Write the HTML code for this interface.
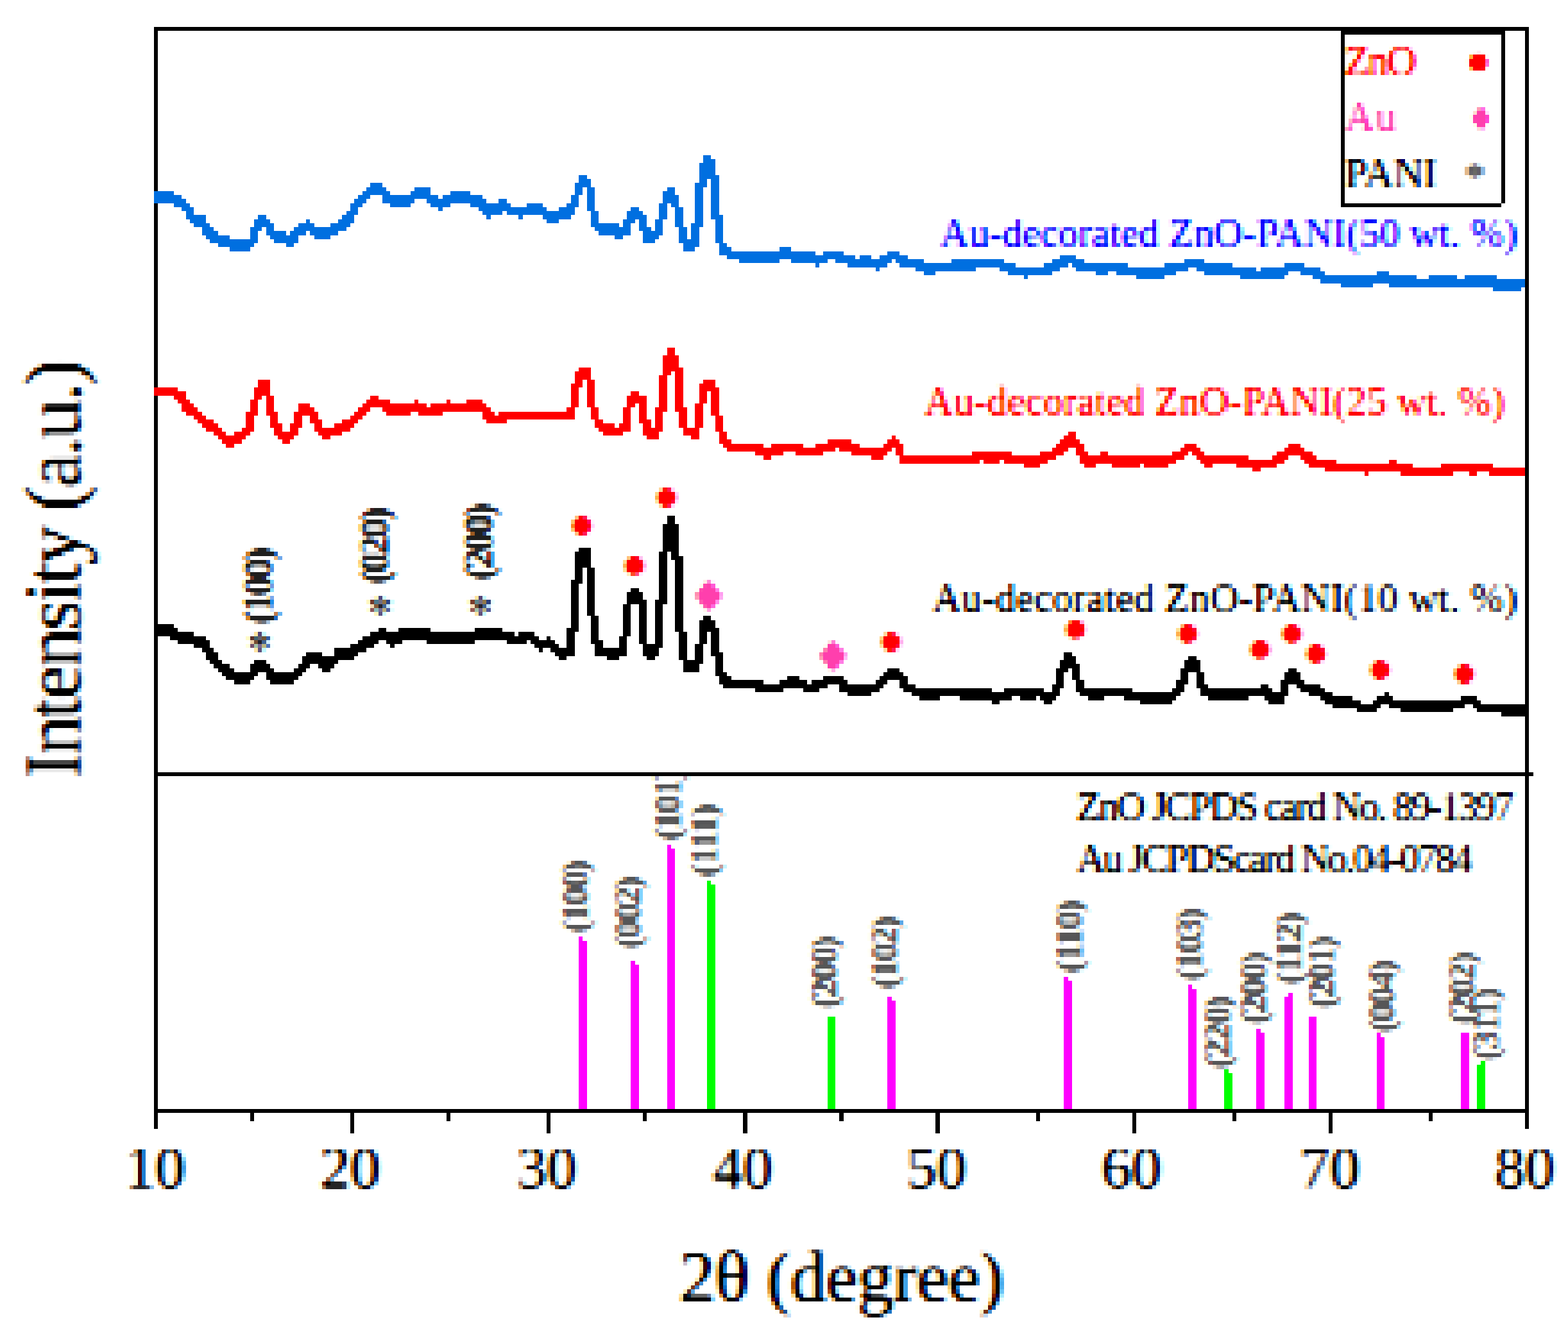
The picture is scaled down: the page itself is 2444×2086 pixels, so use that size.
<!DOCTYPE html><html><head><meta charset="utf-8"><title>XRD patterns</title><style>html,body{margin:0;padding:0;background:#fff}body{width:2444px;height:2086px}</style></head><body><svg width="2444" height="2086" viewBox="0 0 2444 2086" style="display:block"><defs><clipPath id="lowclip"><rect x="0" y="1210.45" width="2444" height="876"/></clipPath><filter id="f0" filterUnits="userSpaceOnUse" x="852" y="729" width="250" height="200" color-interpolation-filters="sRGB"><feGaussianBlur in="SourceAlpha" stdDeviation="3.4 1.6" result="A0"/><feComponentTransfer in="A0" result="A1"><feFuncA type="linear" slope="1.55" intercept="-0.1"/></feComponentTransfer><feComponentTransfer in="A1" result="A"><feFuncA type="gamma" amplitude="1" exponent="1.2" offset="0"/></feComponentTransfer><feColorMatrix in="A" type="matrix" values="0 0 0 0 1  0 0 0 0 0  0 0 0 0 1  0 0 0 1.000 0" result="M"/><feOffset in="A" dx="-2" dy="0" result="AB"/><feColorMatrix in="AB" type="matrix" values="0 0 0 0 1  0 0 0 0 1  0 0 0 0 0  0 0 0 1.000 0" result="Y"/><feBlend in="M" in2="Y" mode="multiply" result="B0"/><feFlood x="855" y="729" width="1" height="25" flood-color="#000" result="a0"/><feFlood x="852" y="732" width="25" height="1" flood-color="#000" result="b0"/><feFlood x="854" y="729" width="2" height="25" flood-color="#000" result="c0"/><feFlood x="852" y="731" width="25" height="2" flood-color="#000" result="r0"/><feFlood x="861" y="729" width="1" height="25" flood-color="#000" result="a1"/><feFlood x="852" y="738" width="25" height="1" flood-color="#000" result="b1"/><feFlood x="860" y="729" width="3" height="25" flood-color="#000" result="c1"/><feFlood x="852" y="737" width="25" height="3" flood-color="#000" result="r1"/><feFlood x="868" y="729" width="1" height="25" flood-color="#000" result="a2"/><feFlood x="852" y="745" width="25" height="1" flood-color="#000" result="b2"/><feFlood x="867" y="729" width="2" height="25" flood-color="#000" result="c2"/><feFlood x="852" y="744" width="25" height="2" flood-color="#000" result="r2"/><feFlood x="874" y="729" width="1" height="25" flood-color="#000" result="a3"/><feFlood x="852" y="751" width="25" height="1" flood-color="#000" result="b3"/><feFlood x="873" y="729" width="2" height="25" flood-color="#000" result="c3"/><feFlood x="852" y="750" width="25" height="2" flood-color="#000" result="r3"/><feMerge result="am"><feMergeNode in="a0"/><feMergeNode in="a1"/><feMergeNode in="a2"/><feMergeNode in="a3"/></feMerge><feMerge result="bm"><feMergeNode in="b0"/><feMergeNode in="b1"/><feMergeNode in="b2"/><feMergeNode in="b3"/></feMerge><feMerge result="cm"><feMergeNode in="c0"/><feMergeNode in="c1"/><feMergeNode in="c2"/><feMergeNode in="c3"/></feMerge><feMerge result="rm"><feMergeNode in="r0"/><feMergeNode in="r1"/><feMergeNode in="r2"/><feMergeNode in="r3"/></feMerge><feComposite in="am" in2="bm" operator="in" x="852" y="729" width="25" height="25" result="cell1"/><feTile in="cell1" result="grid1"/><feComposite in="cm" in2="rm" operator="in" x="852" y="729" width="25" height="25" result="cell2"/><feTile in="cell2" result="grid2"/><feComposite in="B0" in2="grid1" operator="in" result="s1"/><feMorphology in="s1" operator="dilate" radius="1" result="d1"/><feComposite in="d1" in2="grid2" operator="in" result="s2"/><feMorphology in="s2" operator="dilate" radius="2"/></filter><filter id="f1" filterUnits="userSpaceOnUse" x="1352" y="954" width="975" height="150" color-interpolation-filters="sRGB"><feGaussianBlur in="SourceAlpha" stdDeviation="3.4 1.6" result="A0"/><feComponentTransfer in="A0" result="A1"><feFuncA type="linear" slope="1.55" intercept="-0.1"/></feComponentTransfer><feComponentTransfer in="A1" result="A"><feFuncA type="gamma" amplitude="1" exponent="1.2" offset="0"/></feComponentTransfer><feColorMatrix in="A" type="matrix" values="0 0 0 0 1  0 0 0 0 0  0 0 0 0 1  0 0 0 1.000 0" result="M"/><feOffset in="A" dx="-2" dy="0" result="AB"/><feColorMatrix in="AB" type="matrix" values="0 0 0 0 1  0 0 0 0 1  0 0 0 0 0  0 0 0 1.000 0" result="Y"/><feBlend in="M" in2="Y" mode="multiply" result="B0"/><feFlood x="1355" y="954" width="1" height="25" flood-color="#000" result="a0"/><feFlood x="1352" y="957" width="25" height="1" flood-color="#000" result="b0"/><feFlood x="1354" y="954" width="2" height="25" flood-color="#000" result="c0"/><feFlood x="1352" y="956" width="25" height="2" flood-color="#000" result="r0"/><feFlood x="1361" y="954" width="1" height="25" flood-color="#000" result="a1"/><feFlood x="1352" y="963" width="25" height="1" flood-color="#000" result="b1"/><feFlood x="1360" y="954" width="3" height="25" flood-color="#000" result="c1"/><feFlood x="1352" y="962" width="25" height="3" flood-color="#000" result="r1"/><feFlood x="1368" y="954" width="1" height="25" flood-color="#000" result="a2"/><feFlood x="1352" y="970" width="25" height="1" flood-color="#000" result="b2"/><feFlood x="1367" y="954" width="2" height="25" flood-color="#000" result="c2"/><feFlood x="1352" y="969" width="25" height="2" flood-color="#000" result="r2"/><feFlood x="1374" y="954" width="1" height="25" flood-color="#000" result="a3"/><feFlood x="1352" y="976" width="25" height="1" flood-color="#000" result="b3"/><feFlood x="1373" y="954" width="2" height="25" flood-color="#000" result="c3"/><feFlood x="1352" y="975" width="25" height="2" flood-color="#000" result="r3"/><feMerge result="am"><feMergeNode in="a0"/><feMergeNode in="a1"/><feMergeNode in="a2"/><feMergeNode in="a3"/></feMerge><feMerge result="bm"><feMergeNode in="b0"/><feMergeNode in="b1"/><feMergeNode in="b2"/><feMergeNode in="b3"/></feMerge><feMerge result="cm"><feMergeNode in="c0"/><feMergeNode in="c1"/><feMergeNode in="c2"/><feMergeNode in="c3"/></feMerge><feMerge result="rm"><feMergeNode in="r0"/><feMergeNode in="r1"/><feMergeNode in="r2"/><feMergeNode in="r3"/></feMerge><feComposite in="am" in2="bm" operator="in" x="1352" y="954" width="25" height="25" result="cell1"/><feTile in="cell1" result="grid1"/><feComposite in="cm" in2="rm" operator="in" x="1352" y="954" width="25" height="25" result="cell2"/><feTile in="cell2" result="grid2"/><feComposite in="B0" in2="grid1" operator="in" result="s1"/><feMorphology in="s1" operator="dilate" radius="1" result="d1"/><feComposite in="d1" in2="grid2" operator="in" result="s2"/><feMorphology in="s2" operator="dilate" radius="2"/></filter><filter id="f2" filterUnits="userSpaceOnUse" x="2077" y="54" width="275" height="100" color-interpolation-filters="sRGB"><feGaussianBlur in="SourceAlpha" stdDeviation="2.7 1.5" result="A0"/><feComponentTransfer in="A0" result="A1"><feFuncA type="linear" slope="1.55" intercept="-0.12"/></feComponentTransfer><feComponentTransfer in="A1" result="A"><feFuncA type="gamma" amplitude="1" exponent="1.2" offset="0"/></feComponentTransfer><feColorMatrix in="A" type="matrix" values="0 0 0 0 1  0 0 0 0 0  0 0 0 0 1  0 0 0 1.000 0" result="M"/><feOffset in="A" dx="-2" dy="0" result="AB"/><feColorMatrix in="AB" type="matrix" values="0 0 0 0 1  0 0 0 0 1  0 0 0 0 0  0 0 0 1.000 0" result="Y"/><feBlend in="M" in2="Y" mode="multiply" result="B0"/><feFlood x="2080" y="54" width="1" height="25" flood-color="#000" result="a0"/><feFlood x="2077" y="57" width="25" height="1" flood-color="#000" result="b0"/><feFlood x="2079" y="54" width="2" height="25" flood-color="#000" result="c0"/><feFlood x="2077" y="56" width="25" height="2" flood-color="#000" result="r0"/><feFlood x="2086" y="54" width="1" height="25" flood-color="#000" result="a1"/><feFlood x="2077" y="63" width="25" height="1" flood-color="#000" result="b1"/><feFlood x="2085" y="54" width="3" height="25" flood-color="#000" result="c1"/><feFlood x="2077" y="62" width="25" height="3" flood-color="#000" result="r1"/><feFlood x="2093" y="54" width="1" height="25" flood-color="#000" result="a2"/><feFlood x="2077" y="70" width="25" height="1" flood-color="#000" result="b2"/><feFlood x="2092" y="54" width="2" height="25" flood-color="#000" result="c2"/><feFlood x="2077" y="69" width="25" height="2" flood-color="#000" result="r2"/><feFlood x="2099" y="54" width="1" height="25" flood-color="#000" result="a3"/><feFlood x="2077" y="76" width="25" height="1" flood-color="#000" result="b3"/><feFlood x="2098" y="54" width="2" height="25" flood-color="#000" result="c3"/><feFlood x="2077" y="75" width="25" height="2" flood-color="#000" result="r3"/><feMerge result="am"><feMergeNode in="a0"/><feMergeNode in="a1"/><feMergeNode in="a2"/><feMergeNode in="a3"/></feMerge><feMerge result="bm"><feMergeNode in="b0"/><feMergeNode in="b1"/><feMergeNode in="b2"/><feMergeNode in="b3"/></feMerge><feMerge result="cm"><feMergeNode in="c0"/><feMergeNode in="c1"/><feMergeNode in="c2"/><feMergeNode in="c3"/></feMerge><feMerge result="rm"><feMergeNode in="r0"/><feMergeNode in="r1"/><feMergeNode in="r2"/><feMergeNode in="r3"/></feMerge><feComposite in="am" in2="bm" operator="in" x="2077" y="54" width="25" height="25" result="cell1"/><feTile in="cell1" result="grid1"/><feComposite in="cm" in2="rm" operator="in" x="2077" y="54" width="25" height="25" result="cell2"/><feTile in="cell2" result="grid2"/><feComposite in="B0" in2="grid1" operator="in" result="s1"/><feMorphology in="s1" operator="dilate" radius="1" result="d1"/><feComposite in="d1" in2="grid2" operator="in" result="s2"/><feMorphology in="s2" operator="dilate" radius="2"/></filter><filter id="f3" filterUnits="userSpaceOnUse" x="1402" y="579" width="975" height="100" color-interpolation-filters="sRGB"><feGaussianBlur in="SourceAlpha" stdDeviation="2.7 1.5" result="A0"/><feComponentTransfer in="A0" result="A1"><feFuncA type="linear" slope="1.55" intercept="-0.12"/></feComponentTransfer><feComponentTransfer in="A1" result="A"><feFuncA type="gamma" amplitude="1" exponent="1.2" offset="0"/></feComponentTransfer><feColorMatrix in="A" type="matrix" values="0 0 0 0 1  0 0 0 0 0  0 0 0 0 1  0 0 0 1.000 0" result="M"/><feOffset in="A" dx="-2" dy="0" result="AB"/><feColorMatrix in="AB" type="matrix" values="0 0 0 0 1  0 0 0 0 1  0 0 0 0 0  0 0 0 1.000 0" result="Y"/><feBlend in="M" in2="Y" mode="multiply" result="B0"/><feFlood x="1405" y="579" width="1" height="25" flood-color="#000" result="a0"/><feFlood x="1402" y="582" width="25" height="1" flood-color="#000" result="b0"/><feFlood x="1404" y="579" width="2" height="25" flood-color="#000" result="c0"/><feFlood x="1402" y="581" width="25" height="2" flood-color="#000" result="r0"/><feFlood x="1411" y="579" width="1" height="25" flood-color="#000" result="a1"/><feFlood x="1402" y="588" width="25" height="1" flood-color="#000" result="b1"/><feFlood x="1410" y="579" width="3" height="25" flood-color="#000" result="c1"/><feFlood x="1402" y="587" width="25" height="3" flood-color="#000" result="r1"/><feFlood x="1418" y="579" width="1" height="25" flood-color="#000" result="a2"/><feFlood x="1402" y="595" width="25" height="1" flood-color="#000" result="b2"/><feFlood x="1417" y="579" width="2" height="25" flood-color="#000" result="c2"/><feFlood x="1402" y="594" width="25" height="2" flood-color="#000" result="r2"/><feFlood x="1424" y="579" width="1" height="25" flood-color="#000" result="a3"/><feFlood x="1402" y="601" width="25" height="1" flood-color="#000" result="b3"/><feFlood x="1423" y="579" width="2" height="25" flood-color="#000" result="c3"/><feFlood x="1402" y="600" width="25" height="2" flood-color="#000" result="r3"/><feMerge result="am"><feMergeNode in="a0"/><feMergeNode in="a1"/><feMergeNode in="a2"/><feMergeNode in="a3"/></feMerge><feMerge result="bm"><feMergeNode in="b0"/><feMergeNode in="b1"/><feMergeNode in="b2"/><feMergeNode in="b3"/></feMerge><feMerge result="cm"><feMergeNode in="c0"/><feMergeNode in="c1"/><feMergeNode in="c2"/><feMergeNode in="c3"/></feMerge><feMerge result="rm"><feMergeNode in="r0"/><feMergeNode in="r1"/><feMergeNode in="r2"/><feMergeNode in="r3"/></feMerge><feComposite in="am" in2="bm" operator="in" x="1402" y="579" width="25" height="25" result="cell1"/><feTile in="cell1" result="grid1"/><feComposite in="cm" in2="rm" operator="in" x="1402" y="579" width="25" height="25" result="cell2"/><feTile in="cell2" result="grid2"/><feComposite in="B0" in2="grid1" operator="in" result="s1"/><feMorphology in="s1" operator="dilate" radius="1" result="d1"/><feComposite in="d1" in2="grid2" operator="in" result="s2"/><feMorphology in="s2" operator="dilate" radius="2"/></filter><filter id="f4" filterUnits="userSpaceOnUse" x="1052" y="879" width="300" height="200" color-interpolation-filters="sRGB"><feGaussianBlur in="SourceAlpha" stdDeviation="3.4 1.6" result="A0"/><feComponentTransfer in="A0" result="A1"><feFuncA type="linear" slope="1.55" intercept="-0.1"/></feComponentTransfer><feComponentTransfer in="A1" result="A"><feFuncA type="gamma" amplitude="1" exponent="1.2" offset="0"/></feComponentTransfer><feColorMatrix in="A" type="matrix" values="0 0 0 0 1  0 0 0 0 0  0 0 0 0 1  0 0 0 0.750 0" result="M"/><feOffset in="A" dx="-2" dy="0" result="AB"/><feColorMatrix in="AB" type="matrix" values="0 0 0 0 1  0 0 0 0 1  0 0 0 0 0  0 0 0 0.320 0" result="Y"/><feBlend in="M" in2="Y" mode="multiply" result="B0"/><feFlood x="1055" y="879" width="1" height="25" flood-color="#000" result="a0"/><feFlood x="1052" y="882" width="25" height="1" flood-color="#000" result="b0"/><feFlood x="1054" y="879" width="2" height="25" flood-color="#000" result="c0"/><feFlood x="1052" y="881" width="25" height="2" flood-color="#000" result="r0"/><feFlood x="1061" y="879" width="1" height="25" flood-color="#000" result="a1"/><feFlood x="1052" y="888" width="25" height="1" flood-color="#000" result="b1"/><feFlood x="1060" y="879" width="3" height="25" flood-color="#000" result="c1"/><feFlood x="1052" y="887" width="25" height="3" flood-color="#000" result="r1"/><feFlood x="1068" y="879" width="1" height="25" flood-color="#000" result="a2"/><feFlood x="1052" y="895" width="25" height="1" flood-color="#000" result="b2"/><feFlood x="1067" y="879" width="2" height="25" flood-color="#000" result="c2"/><feFlood x="1052" y="894" width="25" height="2" flood-color="#000" result="r2"/><feFlood x="1074" y="879" width="1" height="25" flood-color="#000" result="a3"/><feFlood x="1052" y="901" width="25" height="1" flood-color="#000" result="b3"/><feFlood x="1073" y="879" width="2" height="25" flood-color="#000" result="c3"/><feFlood x="1052" y="900" width="25" height="2" flood-color="#000" result="r3"/><feMerge result="am"><feMergeNode in="a0"/><feMergeNode in="a1"/><feMergeNode in="a2"/><feMergeNode in="a3"/></feMerge><feMerge result="bm"><feMergeNode in="b0"/><feMergeNode in="b1"/><feMergeNode in="b2"/><feMergeNode in="b3"/></feMerge><feMerge result="cm"><feMergeNode in="c0"/><feMergeNode in="c1"/><feMergeNode in="c2"/><feMergeNode in="c3"/></feMerge><feMerge result="rm"><feMergeNode in="r0"/><feMergeNode in="r1"/><feMergeNode in="r2"/><feMergeNode in="r3"/></feMerge><feComposite in="am" in2="bm" operator="in" x="1052" y="879" width="25" height="25" result="cell1"/><feTile in="cell1" result="grid1"/><feComposite in="cm" in2="rm" operator="in" x="1052" y="879" width="25" height="25" result="cell2"/><feTile in="cell2" result="grid2"/><feComposite in="B0" in2="grid1" operator="in" result="s1"/><feMorphology in="s1" operator="dilate" radius="1" result="d1"/><feComposite in="d1" in2="grid2" operator="in" result="s2"/><feMorphology in="s2" operator="dilate" radius="2"/></filter><filter id="f5" filterUnits="userSpaceOnUse" x="2077" y="129" width="275" height="100" color-interpolation-filters="sRGB"><feGaussianBlur in="SourceAlpha" stdDeviation="2.7 1.5" result="A0"/><feComponentTransfer in="A0" result="A1"><feFuncA type="linear" slope="1.55" intercept="-0.12"/></feComponentTransfer><feComponentTransfer in="A1" result="A"><feFuncA type="gamma" amplitude="1" exponent="1.2" offset="0"/></feComponentTransfer><feColorMatrix in="A" type="matrix" values="0 0 0 0 1  0 0 0 0 0  0 0 0 0 1  0 0 0 0.750 0" result="M"/><feOffset in="A" dx="-2" dy="0" result="AB"/><feColorMatrix in="AB" type="matrix" values="0 0 0 0 1  0 0 0 0 1  0 0 0 0 0  0 0 0 0.320 0" result="Y"/><feBlend in="M" in2="Y" mode="multiply" result="B0"/><feFlood x="2080" y="129" width="1" height="25" flood-color="#000" result="a0"/><feFlood x="2077" y="132" width="25" height="1" flood-color="#000" result="b0"/><feFlood x="2079" y="129" width="2" height="25" flood-color="#000" result="c0"/><feFlood x="2077" y="131" width="25" height="2" flood-color="#000" result="r0"/><feFlood x="2086" y="129" width="1" height="25" flood-color="#000" result="a1"/><feFlood x="2077" y="138" width="25" height="1" flood-color="#000" result="b1"/><feFlood x="2085" y="129" width="3" height="25" flood-color="#000" result="c1"/><feFlood x="2077" y="137" width="25" height="3" flood-color="#000" result="r1"/><feFlood x="2093" y="129" width="1" height="25" flood-color="#000" result="a2"/><feFlood x="2077" y="145" width="25" height="1" flood-color="#000" result="b2"/><feFlood x="2092" y="129" width="2" height="25" flood-color="#000" result="c2"/><feFlood x="2077" y="144" width="25" height="2" flood-color="#000" result="r2"/><feFlood x="2099" y="129" width="1" height="25" flood-color="#000" result="a3"/><feFlood x="2077" y="151" width="25" height="1" flood-color="#000" result="b3"/><feFlood x="2098" y="129" width="2" height="25" flood-color="#000" result="c3"/><feFlood x="2077" y="150" width="25" height="2" flood-color="#000" result="r3"/><feMerge result="am"><feMergeNode in="a0"/><feMergeNode in="a1"/><feMergeNode in="a2"/><feMergeNode in="a3"/></feMerge><feMerge result="bm"><feMergeNode in="b0"/><feMergeNode in="b1"/><feMergeNode in="b2"/><feMergeNode in="b3"/></feMerge><feMerge result="cm"><feMergeNode in="c0"/><feMergeNode in="c1"/><feMergeNode in="c2"/><feMergeNode in="c3"/></feMerge><feMerge result="rm"><feMergeNode in="r0"/><feMergeNode in="r1"/><feMergeNode in="r2"/><feMergeNode in="r3"/></feMerge><feComposite in="am" in2="bm" operator="in" x="2077" y="129" width="25" height="25" result="cell1"/><feTile in="cell1" result="grid1"/><feComposite in="cm" in2="rm" operator="in" x="2077" y="129" width="25" height="25" result="cell2"/><feTile in="cell2" result="grid2"/><feComposite in="B0" in2="grid1" operator="in" result="s1"/><feMorphology in="s1" operator="dilate" radius="1" result="d1"/><feComposite in="d1" in2="grid2" operator="in" result="s2"/><feMorphology in="s2" operator="dilate" radius="2"/></filter><filter id="f6" filterUnits="userSpaceOnUse" x="1427" y="304" width="975" height="125" color-interpolation-filters="sRGB"><feGaussianBlur in="SourceAlpha" stdDeviation="2.7 1.5" result="A0"/><feComponentTransfer in="A0" result="A1"><feFuncA type="linear" slope="1.55" intercept="-0.12"/></feComponentTransfer><feComponentTransfer in="A1" result="A"><feFuncA type="gamma" amplitude="1" exponent="1.2" offset="0"/></feComponentTransfer><feOffset in="A" dx="2" dy="0" result="AR"/><feColorMatrix in="AR" type="matrix" values="0 0 0 0 0  0 0 0 0 1  0 0 0 0 1  0 0 0 1.000 0" result="C"/><feColorMatrix in="A" type="matrix" values="0 0 0 0 1  0 0 0 0 0  0 0 0 0 1  0 0 0 1.000 0" result="M"/><feBlend in="C" in2="M" mode="multiply" result="B0"/><feFlood x="1430" y="304" width="1" height="25" flood-color="#000" result="a0"/><feFlood x="1427" y="307" width="25" height="1" flood-color="#000" result="b0"/><feFlood x="1429" y="304" width="2" height="25" flood-color="#000" result="c0"/><feFlood x="1427" y="306" width="25" height="2" flood-color="#000" result="r0"/><feFlood x="1436" y="304" width="1" height="25" flood-color="#000" result="a1"/><feFlood x="1427" y="313" width="25" height="1" flood-color="#000" result="b1"/><feFlood x="1435" y="304" width="3" height="25" flood-color="#000" result="c1"/><feFlood x="1427" y="312" width="25" height="3" flood-color="#000" result="r1"/><feFlood x="1443" y="304" width="1" height="25" flood-color="#000" result="a2"/><feFlood x="1427" y="320" width="25" height="1" flood-color="#000" result="b2"/><feFlood x="1442" y="304" width="2" height="25" flood-color="#000" result="c2"/><feFlood x="1427" y="319" width="25" height="2" flood-color="#000" result="r2"/><feFlood x="1449" y="304" width="1" height="25" flood-color="#000" result="a3"/><feFlood x="1427" y="326" width="25" height="1" flood-color="#000" result="b3"/><feFlood x="1448" y="304" width="2" height="25" flood-color="#000" result="c3"/><feFlood x="1427" y="325" width="25" height="2" flood-color="#000" result="r3"/><feMerge result="am"><feMergeNode in="a0"/><feMergeNode in="a1"/><feMergeNode in="a2"/><feMergeNode in="a3"/></feMerge><feMerge result="bm"><feMergeNode in="b0"/><feMergeNode in="b1"/><feMergeNode in="b2"/><feMergeNode in="b3"/></feMerge><feMerge result="cm"><feMergeNode in="c0"/><feMergeNode in="c1"/><feMergeNode in="c2"/><feMergeNode in="c3"/></feMerge><feMerge result="rm"><feMergeNode in="r0"/><feMergeNode in="r1"/><feMergeNode in="r2"/><feMergeNode in="r3"/></feMerge><feComposite in="am" in2="bm" operator="in" x="1427" y="304" width="25" height="25" result="cell1"/><feTile in="cell1" result="grid1"/><feComposite in="cm" in2="rm" operator="in" x="1427" y="304" width="25" height="25" result="cell2"/><feTile in="cell2" result="grid2"/><feComposite in="B0" in2="grid1" operator="in" result="s1"/><feMorphology in="s1" operator="dilate" radius="1" result="d1"/><feComposite in="d1" in2="grid2" operator="in" result="s2"/><feMorphology in="s2" operator="dilate" radius="2"/></filter><filter id="f7" filterUnits="userSpaceOnUse" x="327" y="754" width="475" height="300" color-interpolation-filters="sRGB"><feGaussianBlur in="SourceAlpha" stdDeviation="2.6 1.5" result="A0"/><feComponentTransfer in="A0" result="A1"><feFuncA type="linear" slope="1.6" intercept="-0.12"/></feComponentTransfer><feComponentTransfer in="A1" result="A"><feFuncA type="gamma" amplitude="1" exponent="1.2" offset="0"/></feComponentTransfer><feOffset in="A" dx="2" dy="0" result="AR"/><feColorMatrix in="AR" type="matrix" values="0 0 0 0 0  0 0 0 0 1  0 0 0 0 1  0 0 0 0.880 0" result="C"/><feColorMatrix in="A" type="matrix" values="0 0 0 0 1  0 0 0 0 0  0 0 0 0 1  0 0 0 0.880 0" result="M"/><feOffset in="A" dx="-2" dy="0" result="AB"/><feColorMatrix in="AB" type="matrix" values="0 0 0 0 1  0 0 0 0 1  0 0 0 0 0  0 0 0 0.880 0" result="Y"/><feBlend in="C" in2="M" mode="multiply" result="B0"/><feBlend in="B0" in2="Y" mode="multiply" result="B1"/><feFlood x="330" y="754" width="1" height="25" flood-color="#000" result="a0"/><feFlood x="327" y="757" width="25" height="1" flood-color="#000" result="b0"/><feFlood x="329" y="754" width="2" height="25" flood-color="#000" result="c0"/><feFlood x="327" y="756" width="25" height="2" flood-color="#000" result="r0"/><feFlood x="336" y="754" width="1" height="25" flood-color="#000" result="a1"/><feFlood x="327" y="763" width="25" height="1" flood-color="#000" result="b1"/><feFlood x="335" y="754" width="3" height="25" flood-color="#000" result="c1"/><feFlood x="327" y="762" width="25" height="3" flood-color="#000" result="r1"/><feFlood x="343" y="754" width="1" height="25" flood-color="#000" result="a2"/><feFlood x="327" y="770" width="25" height="1" flood-color="#000" result="b2"/><feFlood x="342" y="754" width="2" height="25" flood-color="#000" result="c2"/><feFlood x="327" y="769" width="25" height="2" flood-color="#000" result="r2"/><feFlood x="349" y="754" width="1" height="25" flood-color="#000" result="a3"/><feFlood x="327" y="776" width="25" height="1" flood-color="#000" result="b3"/><feFlood x="348" y="754" width="2" height="25" flood-color="#000" result="c3"/><feFlood x="327" y="775" width="25" height="2" flood-color="#000" result="r3"/><feMerge result="am"><feMergeNode in="a0"/><feMergeNode in="a1"/><feMergeNode in="a2"/><feMergeNode in="a3"/></feMerge><feMerge result="bm"><feMergeNode in="b0"/><feMergeNode in="b1"/><feMergeNode in="b2"/><feMergeNode in="b3"/></feMerge><feMerge result="cm"><feMergeNode in="c0"/><feMergeNode in="c1"/><feMergeNode in="c2"/><feMergeNode in="c3"/></feMerge><feMerge result="rm"><feMergeNode in="r0"/><feMergeNode in="r1"/><feMergeNode in="r2"/><feMergeNode in="r3"/></feMerge><feComposite in="am" in2="bm" operator="in" x="327" y="754" width="25" height="25" result="cell1"/><feTile in="cell1" result="grid1"/><feComposite in="cm" in2="rm" operator="in" x="327" y="754" width="25" height="25" result="cell2"/><feTile in="cell2" result="grid2"/><feComposite in="B1" in2="grid1" operator="in" result="s1"/><feMorphology in="s1" operator="dilate" radius="1" result="d1"/><feComposite in="d1" in2="grid2" operator="in" result="s2"/><feMorphology in="s2" operator="dilate" radius="2"/></filter><filter id="f8" filterUnits="userSpaceOnUse" x="2252" y="229" width="100" height="75" color-interpolation-filters="sRGB"><feGaussianBlur in="SourceAlpha" stdDeviation="3.4 1.6" result="A0"/><feComponentTransfer in="A0" result="A1"><feFuncA type="linear" slope="1.55" intercept="-0.1"/></feComponentTransfer><feComponentTransfer in="A1" result="A"><feFuncA type="gamma" amplitude="1" exponent="1.2" offset="0"/></feComponentTransfer><feOffset in="A" dx="2" dy="0" result="AR"/><feColorMatrix in="AR" type="matrix" values="0 0 0 0 0  0 0 0 0 1  0 0 0 0 1  0 0 0 0.660 0" result="C"/><feColorMatrix in="A" type="matrix" values="0 0 0 0 1  0 0 0 0 0  0 0 0 0 1  0 0 0 0.660 0" result="M"/><feOffset in="A" dx="-2" dy="0" result="AB"/><feColorMatrix in="AB" type="matrix" values="0 0 0 0 1  0 0 0 0 1  0 0 0 0 0  0 0 0 0.660 0" result="Y"/><feBlend in="C" in2="M" mode="multiply" result="B0"/><feBlend in="B0" in2="Y" mode="multiply" result="B1"/><feFlood x="2255" y="229" width="1" height="25" flood-color="#000" result="a0"/><feFlood x="2252" y="232" width="25" height="1" flood-color="#000" result="b0"/><feFlood x="2254" y="229" width="2" height="25" flood-color="#000" result="c0"/><feFlood x="2252" y="231" width="25" height="2" flood-color="#000" result="r0"/><feFlood x="2261" y="229" width="1" height="25" flood-color="#000" result="a1"/><feFlood x="2252" y="238" width="25" height="1" flood-color="#000" result="b1"/><feFlood x="2260" y="229" width="3" height="25" flood-color="#000" result="c1"/><feFlood x="2252" y="237" width="25" height="3" flood-color="#000" result="r1"/><feFlood x="2268" y="229" width="1" height="25" flood-color="#000" result="a2"/><feFlood x="2252" y="245" width="25" height="1" flood-color="#000" result="b2"/><feFlood x="2267" y="229" width="2" height="25" flood-color="#000" result="c2"/><feFlood x="2252" y="244" width="25" height="2" flood-color="#000" result="r2"/><feFlood x="2274" y="229" width="1" height="25" flood-color="#000" result="a3"/><feFlood x="2252" y="251" width="25" height="1" flood-color="#000" result="b3"/><feFlood x="2273" y="229" width="2" height="25" flood-color="#000" result="c3"/><feFlood x="2252" y="250" width="25" height="2" flood-color="#000" result="r3"/><feMerge result="am"><feMergeNode in="a0"/><feMergeNode in="a1"/><feMergeNode in="a2"/><feMergeNode in="a3"/></feMerge><feMerge result="bm"><feMergeNode in="b0"/><feMergeNode in="b1"/><feMergeNode in="b2"/><feMergeNode in="b3"/></feMerge><feMerge result="cm"><feMergeNode in="c0"/><feMergeNode in="c1"/><feMergeNode in="c2"/><feMergeNode in="c3"/></feMerge><feMerge result="rm"><feMergeNode in="r0"/><feMergeNode in="r1"/><feMergeNode in="r2"/><feMergeNode in="r3"/></feMerge><feComposite in="am" in2="bm" operator="in" x="2252" y="229" width="25" height="25" result="cell1"/><feTile in="cell1" result="grid1"/><feComposite in="cm" in2="rm" operator="in" x="2252" y="229" width="25" height="25" result="cell2"/><feTile in="cell2" result="grid2"/><feComposite in="B1" in2="grid1" operator="in" result="s1"/><feMorphology in="s1" operator="dilate" radius="1" result="d1"/><feComposite in="d1" in2="grid2" operator="in" result="s2"/><feMorphology in="s2" operator="dilate" radius="2"/></filter><filter id="f9" filterUnits="userSpaceOnUse" x="827" y="1179" width="1550" height="525" color-interpolation-filters="sRGB"><feGaussianBlur in="SourceAlpha" stdDeviation="2.6 1.5" result="A0"/><feComponentTransfer in="A0" result="A1"><feFuncA type="linear" slope="1.6" intercept="-0.12"/></feComponentTransfer><feComponentTransfer in="A1" result="A"><feFuncA type="gamma" amplitude="1" exponent="1.2" offset="0"/></feComponentTransfer><feOffset in="A" dx="2" dy="0" result="AR"/><feColorMatrix in="AR" type="matrix" values="0 0 0 0 0  0 0 0 0 1  0 0 0 0 1  0 0 0 0.660 0" result="C"/><feColorMatrix in="A" type="matrix" values="0 0 0 0 1  0 0 0 0 0  0 0 0 0 1  0 0 0 0.660 0" result="M"/><feOffset in="A" dx="-2" dy="0" result="AB"/><feColorMatrix in="AB" type="matrix" values="0 0 0 0 1  0 0 0 0 1  0 0 0 0 0  0 0 0 0.660 0" result="Y"/><feBlend in="C" in2="M" mode="multiply" result="B0"/><feBlend in="B0" in2="Y" mode="multiply" result="B1"/><feFlood x="830" y="1179" width="1" height="25" flood-color="#000" result="a0"/><feFlood x="827" y="1182" width="25" height="1" flood-color="#000" result="b0"/><feFlood x="829" y="1179" width="2" height="25" flood-color="#000" result="c0"/><feFlood x="827" y="1181" width="25" height="2" flood-color="#000" result="r0"/><feFlood x="836" y="1179" width="1" height="25" flood-color="#000" result="a1"/><feFlood x="827" y="1188" width="25" height="1" flood-color="#000" result="b1"/><feFlood x="835" y="1179" width="3" height="25" flood-color="#000" result="c1"/><feFlood x="827" y="1187" width="25" height="3" flood-color="#000" result="r1"/><feFlood x="843" y="1179" width="1" height="25" flood-color="#000" result="a2"/><feFlood x="827" y="1195" width="25" height="1" flood-color="#000" result="b2"/><feFlood x="842" y="1179" width="2" height="25" flood-color="#000" result="c2"/><feFlood x="827" y="1194" width="25" height="2" flood-color="#000" result="r2"/><feFlood x="849" y="1179" width="1" height="25" flood-color="#000" result="a3"/><feFlood x="827" y="1201" width="25" height="1" flood-color="#000" result="b3"/><feFlood x="848" y="1179" width="2" height="25" flood-color="#000" result="c3"/><feFlood x="827" y="1200" width="25" height="2" flood-color="#000" result="r3"/><feMerge result="am"><feMergeNode in="a0"/><feMergeNode in="a1"/><feMergeNode in="a2"/><feMergeNode in="a3"/></feMerge><feMerge result="bm"><feMergeNode in="b0"/><feMergeNode in="b1"/><feMergeNode in="b2"/><feMergeNode in="b3"/></feMerge><feMerge result="cm"><feMergeNode in="c0"/><feMergeNode in="c1"/><feMergeNode in="c2"/><feMergeNode in="c3"/></feMerge><feMerge result="rm"><feMergeNode in="r0"/><feMergeNode in="r1"/><feMergeNode in="r2"/><feMergeNode in="r3"/></feMerge><feComposite in="am" in2="bm" operator="in" x="827" y="1179" width="25" height="25" result="cell1"/><feTile in="cell1" result="grid1"/><feComposite in="cm" in2="rm" operator="in" x="827" y="1179" width="25" height="25" result="cell2"/><feTile in="cell2" result="grid2"/><feComposite in="B1" in2="grid1" operator="in" result="s1"/><feMorphology in="s1" operator="dilate" radius="1" result="d1"/><feComposite in="d1" in2="grid2" operator="in" result="s2"/><feMorphology in="s2" operator="dilate" radius="2"/></filter><filter id="f10" filterUnits="userSpaceOnUse" x="2" y="529" width="175" height="725" color-interpolation-filters="sRGB"><feGaussianBlur in="SourceAlpha" stdDeviation="3.4 1.6" result="A0"/><feComponentTransfer in="A0" result="A1"><feFuncA type="linear" slope="1.55" intercept="-0.1"/></feComponentTransfer><feComponentTransfer in="A1" result="A"><feFuncA type="gamma" amplitude="1" exponent="1.2" offset="0"/></feComponentTransfer><feOffset in="A" dx="2" dy="0" result="AR"/><feColorMatrix in="AR" type="matrix" values="0 0 0 0 0  0 0 0 0 1  0 0 0 0 1  0 0 0 1.000 0" result="C"/><feColorMatrix in="A" type="matrix" values="0 0 0 0 1  0 0 0 0 0  0 0 0 0 1  0 0 0 1.000 0" result="M"/><feOffset in="A" dx="-2" dy="0" result="AB"/><feColorMatrix in="AB" type="matrix" values="0 0 0 0 1  0 0 0 0 1  0 0 0 0 0  0 0 0 1.000 0" result="Y"/><feBlend in="C" in2="M" mode="multiply" result="B0"/><feBlend in="B0" in2="Y" mode="multiply" result="B1"/><feFlood x="5" y="529" width="1" height="25" flood-color="#000" result="a0"/><feFlood x="2" y="532" width="25" height="1" flood-color="#000" result="b0"/><feFlood x="4" y="529" width="2" height="25" flood-color="#000" result="c0"/><feFlood x="2" y="531" width="25" height="2" flood-color="#000" result="r0"/><feFlood x="11" y="529" width="1" height="25" flood-color="#000" result="a1"/><feFlood x="2" y="538" width="25" height="1" flood-color="#000" result="b1"/><feFlood x="10" y="529" width="3" height="25" flood-color="#000" result="c1"/><feFlood x="2" y="537" width="25" height="3" flood-color="#000" result="r1"/><feFlood x="18" y="529" width="1" height="25" flood-color="#000" result="a2"/><feFlood x="2" y="545" width="25" height="1" flood-color="#000" result="b2"/><feFlood x="17" y="529" width="2" height="25" flood-color="#000" result="c2"/><feFlood x="2" y="544" width="25" height="2" flood-color="#000" result="r2"/><feFlood x="24" y="529" width="1" height="25" flood-color="#000" result="a3"/><feFlood x="2" y="551" width="25" height="1" flood-color="#000" result="b3"/><feFlood x="23" y="529" width="2" height="25" flood-color="#000" result="c3"/><feFlood x="2" y="550" width="25" height="2" flood-color="#000" result="r3"/><feMerge result="am"><feMergeNode in="a0"/><feMergeNode in="a1"/><feMergeNode in="a2"/><feMergeNode in="a3"/></feMerge><feMerge result="bm"><feMergeNode in="b0"/><feMergeNode in="b1"/><feMergeNode in="b2"/><feMergeNode in="b3"/></feMerge><feMerge result="cm"><feMergeNode in="c0"/><feMergeNode in="c1"/><feMergeNode in="c2"/><feMergeNode in="c3"/></feMerge><feMerge result="rm"><feMergeNode in="r0"/><feMergeNode in="r1"/><feMergeNode in="r2"/><feMergeNode in="r3"/></feMerge><feComposite in="am" in2="bm" operator="in" x="2" y="529" width="25" height="25" result="cell1"/><feTile in="cell1" result="grid1"/><feComposite in="cm" in2="rm" operator="in" x="2" y="529" width="25" height="25" result="cell2"/><feTile in="cell2" result="grid2"/><feComposite in="B1" in2="grid1" operator="in" result="s1"/><feMorphology in="s1" operator="dilate" radius="1" result="d1"/><feComposite in="d1" in2="grid2" operator="in" result="s2"/><feMorphology in="s2" operator="dilate" radius="2"/></filter><filter id="f11" filterUnits="userSpaceOnUse" x="177" y="1754" width="2275" height="150" color-interpolation-filters="sRGB"><feGaussianBlur in="SourceAlpha" stdDeviation="3.4 1.6" result="A0"/><feComponentTransfer in="A0" result="A1"><feFuncA type="linear" slope="1.55" intercept="-0.1"/></feComponentTransfer><feComponentTransfer in="A1" result="A"><feFuncA type="gamma" amplitude="1" exponent="1.2" offset="0"/></feComponentTransfer><feOffset in="A" dx="2" dy="0" result="AR"/><feColorMatrix in="AR" type="matrix" values="0 0 0 0 0  0 0 0 0 1  0 0 0 0 1  0 0 0 1.000 0" result="C"/><feColorMatrix in="A" type="matrix" values="0 0 0 0 1  0 0 0 0 0  0 0 0 0 1  0 0 0 1.000 0" result="M"/><feOffset in="A" dx="-2" dy="0" result="AB"/><feColorMatrix in="AB" type="matrix" values="0 0 0 0 1  0 0 0 0 1  0 0 0 0 0  0 0 0 1.000 0" result="Y"/><feBlend in="C" in2="M" mode="multiply" result="B0"/><feBlend in="B0" in2="Y" mode="multiply" result="B1"/><feFlood x="180" y="1754" width="1" height="25" flood-color="#000" result="a0"/><feFlood x="177" y="1757" width="25" height="1" flood-color="#000" result="b0"/><feFlood x="179" y="1754" width="2" height="25" flood-color="#000" result="c0"/><feFlood x="177" y="1756" width="25" height="2" flood-color="#000" result="r0"/><feFlood x="186" y="1754" width="1" height="25" flood-color="#000" result="a1"/><feFlood x="177" y="1763" width="25" height="1" flood-color="#000" result="b1"/><feFlood x="185" y="1754" width="3" height="25" flood-color="#000" result="c1"/><feFlood x="177" y="1762" width="25" height="3" flood-color="#000" result="r1"/><feFlood x="193" y="1754" width="1" height="25" flood-color="#000" result="a2"/><feFlood x="177" y="1770" width="25" height="1" flood-color="#000" result="b2"/><feFlood x="192" y="1754" width="2" height="25" flood-color="#000" result="c2"/><feFlood x="177" y="1769" width="25" height="2" flood-color="#000" result="r2"/><feFlood x="199" y="1754" width="1" height="25" flood-color="#000" result="a3"/><feFlood x="177" y="1776" width="25" height="1" flood-color="#000" result="b3"/><feFlood x="198" y="1754" width="2" height="25" flood-color="#000" result="c3"/><feFlood x="177" y="1775" width="25" height="2" flood-color="#000" result="r3"/><feMerge result="am"><feMergeNode in="a0"/><feMergeNode in="a1"/><feMergeNode in="a2"/><feMergeNode in="a3"/></feMerge><feMerge result="bm"><feMergeNode in="b0"/><feMergeNode in="b1"/><feMergeNode in="b2"/><feMergeNode in="b3"/></feMerge><feMerge result="cm"><feMergeNode in="c0"/><feMergeNode in="c1"/><feMergeNode in="c2"/><feMergeNode in="c3"/></feMerge><feMerge result="rm"><feMergeNode in="r0"/><feMergeNode in="r1"/><feMergeNode in="r2"/><feMergeNode in="r3"/></feMerge><feComposite in="am" in2="bm" operator="in" x="177" y="1754" width="25" height="25" result="cell1"/><feTile in="cell1" result="grid1"/><feComposite in="cm" in2="rm" operator="in" x="177" y="1754" width="25" height="25" result="cell2"/><feTile in="cell2" result="grid2"/><feComposite in="B1" in2="grid1" operator="in" result="s1"/><feMorphology in="s1" operator="dilate" radius="1" result="d1"/><feComposite in="d1" in2="grid2" operator="in" result="s2"/><feMorphology in="s2" operator="dilate" radius="2"/></filter><filter id="f12" filterUnits="userSpaceOnUse" x="1027" y="1904" width="575" height="200" color-interpolation-filters="sRGB"><feGaussianBlur in="SourceAlpha" stdDeviation="3.4 1.6" result="A0"/><feComponentTransfer in="A0" result="A1"><feFuncA type="linear" slope="1.55" intercept="-0.1"/></feComponentTransfer><feComponentTransfer in="A1" result="A"><feFuncA type="gamma" amplitude="1" exponent="1.2" offset="0"/></feComponentTransfer><feOffset in="A" dx="2" dy="0" result="AR"/><feColorMatrix in="AR" type="matrix" values="0 0 0 0 0  0 0 0 0 1  0 0 0 0 1  0 0 0 1.000 0" result="C"/><feColorMatrix in="A" type="matrix" values="0 0 0 0 1  0 0 0 0 0  0 0 0 0 1  0 0 0 1.000 0" result="M"/><feOffset in="A" dx="-2" dy="0" result="AB"/><feColorMatrix in="AB" type="matrix" values="0 0 0 0 1  0 0 0 0 1  0 0 0 0 0  0 0 0 1.000 0" result="Y"/><feBlend in="C" in2="M" mode="multiply" result="B0"/><feBlend in="B0" in2="Y" mode="multiply" result="B1"/><feFlood x="1030" y="1904" width="1" height="25" flood-color="#000" result="a0"/><feFlood x="1027" y="1907" width="25" height="1" flood-color="#000" result="b0"/><feFlood x="1029" y="1904" width="2" height="25" flood-color="#000" result="c0"/><feFlood x="1027" y="1906" width="25" height="2" flood-color="#000" result="r0"/><feFlood x="1036" y="1904" width="1" height="25" flood-color="#000" result="a1"/><feFlood x="1027" y="1913" width="25" height="1" flood-color="#000" result="b1"/><feFlood x="1035" y="1904" width="3" height="25" flood-color="#000" result="c1"/><feFlood x="1027" y="1912" width="25" height="3" flood-color="#000" result="r1"/><feFlood x="1043" y="1904" width="1" height="25" flood-color="#000" result="a2"/><feFlood x="1027" y="1920" width="25" height="1" flood-color="#000" result="b2"/><feFlood x="1042" y="1904" width="2" height="25" flood-color="#000" result="c2"/><feFlood x="1027" y="1919" width="25" height="2" flood-color="#000" result="r2"/><feFlood x="1049" y="1904" width="1" height="25" flood-color="#000" result="a3"/><feFlood x="1027" y="1926" width="25" height="1" flood-color="#000" result="b3"/><feFlood x="1048" y="1904" width="2" height="25" flood-color="#000" result="c3"/><feFlood x="1027" y="1925" width="25" height="2" flood-color="#000" result="r3"/><feMerge result="am"><feMergeNode in="a0"/><feMergeNode in="a1"/><feMergeNode in="a2"/><feMergeNode in="a3"/></feMerge><feMerge result="bm"><feMergeNode in="b0"/><feMergeNode in="b1"/><feMergeNode in="b2"/><feMergeNode in="b3"/></feMerge><feMerge result="cm"><feMergeNode in="c0"/><feMergeNode in="c1"/><feMergeNode in="c2"/><feMergeNode in="c3"/></feMerge><feMerge result="rm"><feMergeNode in="r0"/><feMergeNode in="r1"/><feMergeNode in="r2"/><feMergeNode in="r3"/></feMerge><feComposite in="am" in2="bm" operator="in" x="1027" y="1904" width="25" height="25" result="cell1"/><feTile in="cell1" result="grid1"/><feComposite in="cm" in2="rm" operator="in" x="1027" y="1904" width="25" height="25" result="cell2"/><feTile in="cell2" result="grid2"/><feComposite in="B1" in2="grid1" operator="in" result="s1"/><feMorphology in="s1" operator="dilate" radius="1" result="d1"/><feComposite in="d1" in2="grid2" operator="in" result="s2"/><feMorphology in="s2" operator="dilate" radius="2"/></filter><filter id="f13" filterUnits="userSpaceOnUse" x="1427" y="879" width="975" height="125" color-interpolation-filters="sRGB"><feGaussianBlur in="SourceAlpha" stdDeviation="2.7 1.5" result="A0"/><feComponentTransfer in="A0" result="A1"><feFuncA type="linear" slope="1.55" intercept="-0.12"/></feComponentTransfer><feComponentTransfer in="A1" result="A"><feFuncA type="gamma" amplitude="1" exponent="1.2" offset="0"/></feComponentTransfer><feOffset in="A" dx="2" dy="0" result="AR"/><feColorMatrix in="AR" type="matrix" values="0 0 0 0 0  0 0 0 0 1  0 0 0 0 1  0 0 0 1.000 0" result="C"/><feColorMatrix in="A" type="matrix" values="0 0 0 0 1  0 0 0 0 0  0 0 0 0 1  0 0 0 1.000 0" result="M"/><feOffset in="A" dx="-2" dy="0" result="AB"/><feColorMatrix in="AB" type="matrix" values="0 0 0 0 1  0 0 0 0 1  0 0 0 0 0  0 0 0 1.000 0" result="Y"/><feBlend in="C" in2="M" mode="multiply" result="B0"/><feBlend in="B0" in2="Y" mode="multiply" result="B1"/><feFlood x="1430" y="879" width="1" height="25" flood-color="#000" result="a0"/><feFlood x="1427" y="882" width="25" height="1" flood-color="#000" result="b0"/><feFlood x="1429" y="879" width="2" height="25" flood-color="#000" result="c0"/><feFlood x="1427" y="881" width="25" height="2" flood-color="#000" result="r0"/><feFlood x="1436" y="879" width="1" height="25" flood-color="#000" result="a1"/><feFlood x="1427" y="888" width="25" height="1" flood-color="#000" result="b1"/><feFlood x="1435" y="879" width="3" height="25" flood-color="#000" result="c1"/><feFlood x="1427" y="887" width="25" height="3" flood-color="#000" result="r1"/><feFlood x="1443" y="879" width="1" height="25" flood-color="#000" result="a2"/><feFlood x="1427" y="895" width="25" height="1" flood-color="#000" result="b2"/><feFlood x="1442" y="879" width="2" height="25" flood-color="#000" result="c2"/><feFlood x="1427" y="894" width="25" height="2" flood-color="#000" result="r2"/><feFlood x="1449" y="879" width="1" height="25" flood-color="#000" result="a3"/><feFlood x="1427" y="901" width="25" height="1" flood-color="#000" result="b3"/><feFlood x="1448" y="879" width="2" height="25" flood-color="#000" result="c3"/><feFlood x="1427" y="900" width="25" height="2" flood-color="#000" result="r3"/><feMerge result="am"><feMergeNode in="a0"/><feMergeNode in="a1"/><feMergeNode in="a2"/><feMergeNode in="a3"/></feMerge><feMerge result="bm"><feMergeNode in="b0"/><feMergeNode in="b1"/><feMergeNode in="b2"/><feMergeNode in="b3"/></feMerge><feMerge result="cm"><feMergeNode in="c0"/><feMergeNode in="c1"/><feMergeNode in="c2"/><feMergeNode in="c3"/></feMerge><feMerge result="rm"><feMergeNode in="r0"/><feMergeNode in="r1"/><feMergeNode in="r2"/><feMergeNode in="r3"/></feMerge><feComposite in="am" in2="bm" operator="in" x="1427" y="879" width="25" height="25" result="cell1"/><feTile in="cell1" result="grid1"/><feComposite in="cm" in2="rm" operator="in" x="1427" y="879" width="25" height="25" result="cell2"/><feTile in="cell2" result="grid2"/><feComposite in="B1" in2="grid1" operator="in" result="s1"/><feMorphology in="s1" operator="dilate" radius="1" result="d1"/><feComposite in="d1" in2="grid2" operator="in" result="s2"/><feMorphology in="s2" operator="dilate" radius="2"/></filter><filter id="f14" filterUnits="userSpaceOnUse" x="1652" y="1204" width="750" height="200" color-interpolation-filters="sRGB"><feGaussianBlur in="SourceAlpha" stdDeviation="2.7 1.5" result="A0"/><feComponentTransfer in="A0" result="A1"><feFuncA type="linear" slope="1.55" intercept="-0.12"/></feComponentTransfer><feComponentTransfer in="A1" result="A"><feFuncA type="gamma" amplitude="1" exponent="1.2" offset="0"/></feComponentTransfer><feOffset in="A" dx="2" dy="0" result="AR"/><feColorMatrix in="AR" type="matrix" values="0 0 0 0 0  0 0 0 0 1  0 0 0 0 1  0 0 0 1.000 0" result="C"/><feColorMatrix in="A" type="matrix" values="0 0 0 0 1  0 0 0 0 0  0 0 0 0 1  0 0 0 1.000 0" result="M"/><feOffset in="A" dx="-2" dy="0" result="AB"/><feColorMatrix in="AB" type="matrix" values="0 0 0 0 1  0 0 0 0 1  0 0 0 0 0  0 0 0 1.000 0" result="Y"/><feBlend in="C" in2="M" mode="multiply" result="B0"/><feBlend in="B0" in2="Y" mode="multiply" result="B1"/><feFlood x="1655" y="1204" width="1" height="25" flood-color="#000" result="a0"/><feFlood x="1652" y="1207" width="25" height="1" flood-color="#000" result="b0"/><feFlood x="1654" y="1204" width="2" height="25" flood-color="#000" result="c0"/><feFlood x="1652" y="1206" width="25" height="2" flood-color="#000" result="r0"/><feFlood x="1661" y="1204" width="1" height="25" flood-color="#000" result="a1"/><feFlood x="1652" y="1213" width="25" height="1" flood-color="#000" result="b1"/><feFlood x="1660" y="1204" width="3" height="25" flood-color="#000" result="c1"/><feFlood x="1652" y="1212" width="25" height="3" flood-color="#000" result="r1"/><feFlood x="1668" y="1204" width="1" height="25" flood-color="#000" result="a2"/><feFlood x="1652" y="1220" width="25" height="1" flood-color="#000" result="b2"/><feFlood x="1667" y="1204" width="2" height="25" flood-color="#000" result="c2"/><feFlood x="1652" y="1219" width="25" height="2" flood-color="#000" result="r2"/><feFlood x="1674" y="1204" width="1" height="25" flood-color="#000" result="a3"/><feFlood x="1652" y="1226" width="25" height="1" flood-color="#000" result="b3"/><feFlood x="1673" y="1204" width="2" height="25" flood-color="#000" result="c3"/><feFlood x="1652" y="1225" width="25" height="2" flood-color="#000" result="r3"/><feMerge result="am"><feMergeNode in="a0"/><feMergeNode in="a1"/><feMergeNode in="a2"/><feMergeNode in="a3"/></feMerge><feMerge result="bm"><feMergeNode in="b0"/><feMergeNode in="b1"/><feMergeNode in="b2"/><feMergeNode in="b3"/></feMerge><feMerge result="cm"><feMergeNode in="c0"/><feMergeNode in="c1"/><feMergeNode in="c2"/><feMergeNode in="c3"/></feMerge><feMerge result="rm"><feMergeNode in="r0"/><feMergeNode in="r1"/><feMergeNode in="r2"/><feMergeNode in="r3"/></feMerge><feComposite in="am" in2="bm" operator="in" x="1652" y="1204" width="25" height="25" result="cell1"/><feTile in="cell1" result="grid1"/><feComposite in="cm" in2="rm" operator="in" x="1652" y="1204" width="25" height="25" result="cell2"/><feTile in="cell2" result="grid2"/><feComposite in="B1" in2="grid1" operator="in" result="s1"/><feMorphology in="s1" operator="dilate" radius="1" result="d1"/><feComposite in="d1" in2="grid2" operator="in" result="s2"/><feMorphology in="s2" operator="dilate" radius="2"/></filter><filter id="f15" filterUnits="userSpaceOnUse" x="2077" y="229" width="200" height="100" color-interpolation-filters="sRGB"><feGaussianBlur in="SourceAlpha" stdDeviation="2.7 1.5" result="A0"/><feComponentTransfer in="A0" result="A1"><feFuncA type="linear" slope="1.55" intercept="-0.12"/></feComponentTransfer><feComponentTransfer in="A1" result="A"><feFuncA type="gamma" amplitude="1" exponent="1.2" offset="0"/></feComponentTransfer><feOffset in="A" dx="2" dy="0" result="AR"/><feColorMatrix in="AR" type="matrix" values="0 0 0 0 0  0 0 0 0 1  0 0 0 0 1  0 0 0 1.000 0" result="C"/><feColorMatrix in="A" type="matrix" values="0 0 0 0 1  0 0 0 0 0  0 0 0 0 1  0 0 0 1.000 0" result="M"/><feOffset in="A" dx="-2" dy="0" result="AB"/><feColorMatrix in="AB" type="matrix" values="0 0 0 0 1  0 0 0 0 1  0 0 0 0 0  0 0 0 1.000 0" result="Y"/><feBlend in="C" in2="M" mode="multiply" result="B0"/><feBlend in="B0" in2="Y" mode="multiply" result="B1"/><feFlood x="2080" y="229" width="1" height="25" flood-color="#000" result="a0"/><feFlood x="2077" y="232" width="25" height="1" flood-color="#000" result="b0"/><feFlood x="2079" y="229" width="2" height="25" flood-color="#000" result="c0"/><feFlood x="2077" y="231" width="25" height="2" flood-color="#000" result="r0"/><feFlood x="2086" y="229" width="1" height="25" flood-color="#000" result="a1"/><feFlood x="2077" y="238" width="25" height="1" flood-color="#000" result="b1"/><feFlood x="2085" y="229" width="3" height="25" flood-color="#000" result="c1"/><feFlood x="2077" y="237" width="25" height="3" flood-color="#000" result="r1"/><feFlood x="2093" y="229" width="1" height="25" flood-color="#000" result="a2"/><feFlood x="2077" y="245" width="25" height="1" flood-color="#000" result="b2"/><feFlood x="2092" y="229" width="2" height="25" flood-color="#000" result="c2"/><feFlood x="2077" y="244" width="25" height="2" flood-color="#000" result="r2"/><feFlood x="2099" y="229" width="1" height="25" flood-color="#000" result="a3"/><feFlood x="2077" y="251" width="25" height="1" flood-color="#000" result="b3"/><feFlood x="2098" y="229" width="2" height="25" flood-color="#000" result="c3"/><feFlood x="2077" y="250" width="25" height="2" flood-color="#000" result="r3"/><feMerge result="am"><feMergeNode in="a0"/><feMergeNode in="a1"/><feMergeNode in="a2"/><feMergeNode in="a3"/></feMerge><feMerge result="bm"><feMergeNode in="b0"/><feMergeNode in="b1"/><feMergeNode in="b2"/><feMergeNode in="b3"/></feMerge><feMerge result="cm"><feMergeNode in="c0"/><feMergeNode in="c1"/><feMergeNode in="c2"/><feMergeNode in="c3"/></feMerge><feMerge result="rm"><feMergeNode in="r0"/><feMergeNode in="r1"/><feMergeNode in="r2"/><feMergeNode in="r3"/></feMerge><feComposite in="am" in2="bm" operator="in" x="2077" y="229" width="25" height="25" result="cell1"/><feTile in="cell1" result="grid1"/><feComposite in="cm" in2="rm" operator="in" x="2077" y="229" width="25" height="25" result="cell2"/><feTile in="cell2" result="grid2"/><feComposite in="B1" in2="grid1" operator="in" result="s1"/><feMorphology in="s1" operator="dilate" radius="1" result="d1"/><feComposite in="d1" in2="grid2" operator="in" result="s2"/><feMorphology in="s2" operator="dilate" radius="2"/></filter></defs><rect width="2444" height="2086" fill="#fff"/><g shape-rendering="crispEdges"><rect x="902.1" y="1460.45" width="6.25" height="268.75" fill="#ff00ff"/><rect x="908.35" y="1466.7" width="6.25" height="262.5" fill="#ff00ff"/><rect x="983.35" y="1497.95" width="6.25" height="231.25" fill="#ff00ff"/><rect x="989.6" y="1504.2" width="6.25" height="225" fill="#ff00ff"/><rect x="1039.6" y="1316.7" width="6.25" height="412.5" fill="#ff00ff"/><rect x="1045.85" y="1322.95" width="6.25" height="406.25" fill="#ff00ff"/><rect x="1102.1" y="1372.95" width="6.25" height="356.25" fill="#00ff00"/><rect x="1108.35" y="1379.2" width="6.25" height="350" fill="#00ff00"/><rect x="1289.6" y="1585.45" width="6.25" height="143.75" fill="#00ff00"/><rect x="1295.85" y="1585.45" width="6.25" height="143.75" fill="#00ff00"/><rect x="1383.35" y="1554.2" width="6.25" height="175" fill="#ff00ff"/><rect x="1389.6" y="1560.45" width="6.25" height="168.75" fill="#ff00ff"/><rect x="1658.35" y="1522.95" width="6.25" height="206.25" fill="#ff00ff"/><rect x="1664.6" y="1529.2" width="6.25" height="200" fill="#ff00ff"/><rect x="1852.1" y="1535.45" width="6.25" height="193.75" fill="#ff00ff"/><rect x="1858.35" y="1541.7" width="6.25" height="187.5" fill="#ff00ff"/><rect x="1908.35" y="1666.7" width="6.25" height="62.5" fill="#00ff00"/><rect x="1914.6" y="1672.95" width="6.25" height="56.25" fill="#00ff00"/><rect x="1958.35" y="1604.2" width="6.25" height="125" fill="#ff00ff"/><rect x="1964.6" y="1610.45" width="6.25" height="118.75" fill="#ff00ff"/><rect x="2002.1" y="1554.2" width="6.25" height="175" fill="#ff00ff"/><rect x="2008.35" y="1547.95" width="6.25" height="181.25" fill="#ff00ff"/><rect x="2039.6" y="1585.45" width="6.25" height="143.75" fill="#ff00ff"/><rect x="2045.85" y="1585.45" width="6.25" height="143.75" fill="#ff00ff"/><rect x="2145.85" y="1610.45" width="6.25" height="118.75" fill="#ff00ff"/><rect x="2152.1" y="1616.7" width="6.25" height="112.5" fill="#ff00ff"/><rect x="2277.1" y="1610.45" width="6.25" height="118.75" fill="#ff00ff"/><rect x="2283.35" y="1610.45" width="6.25" height="118.75" fill="#ff00ff"/><rect x="2302.1" y="1660.45" width="6.25" height="68.75" fill="#00ff00"/><rect x="2308.35" y="1654.2" width="6.25" height="75" fill="#00ff00"/><rect x="239.6" y="41.7" width="2143.75" height="6.25" fill="#000"/><rect x="239.6" y="41.7" width="6.25" height="1718.75" fill="#000"/><rect x="2377.1" y="41.7" width="6.25" height="1718.75" fill="#000"/><rect x="239.6" y="1729.2" width="2143.75" height="6.25" fill="#000"/><rect x="239.6" y="1204.2" width="2150" height="6.25" fill="#000"/><rect x="389.6" y="1735.45" width="6.25" height="12.5" fill="#000"/><rect x="545.85" y="1735.45" width="6.25" height="31.25" fill="#000"/><rect x="695.85" y="1735.45" width="6.25" height="12.5" fill="#000"/><rect x="852.1" y="1735.45" width="6.25" height="31.25" fill="#000"/><rect x="1002.1" y="1735.45" width="6.25" height="12.5" fill="#000"/><rect x="1158.35" y="1735.45" width="6.25" height="31.25" fill="#000"/><rect x="1308.35" y="1735.45" width="6.25" height="12.5" fill="#000"/><rect x="1458.35" y="1735.45" width="6.25" height="31.25" fill="#000"/><rect x="1614.6" y="1735.45" width="6.25" height="12.5" fill="#000"/><rect x="1764.6" y="1735.45" width="6.25" height="31.25" fill="#000"/><rect x="1920.85" y="1735.45" width="6.25" height="12.5" fill="#000"/><rect x="2070.85" y="1735.45" width="6.25" height="31.25" fill="#000"/><rect x="2227.1" y="1735.45" width="6.25" height="12.5" fill="#000"/><rect x="2089.6" y="47.95" width="256.25" height="6.25" fill="#000"/><rect x="2089.6" y="47.95" width="6.25" height="275" fill="#000"/><rect x="2339.6" y="47.95" width="6.25" height="268.75" fill="#000"/><rect x="2089.6" y="316.7" width="250" height="6.25" fill="#000"/><path fill="#006fe0" d="M239.6 297.95h6.25v18.75h-6.25zM245.85 297.95h6.25v18.75h-6.25zM252.1 297.95h6.25v18.75h-6.25zM258.35 297.95h6.25v18.75h-6.25zM264.6 297.95h6.25v18.75h-6.25zM270.85 304.2h6.25v18.75h-6.25zM277.1 304.2h6.25v18.75h-6.25zM283.35 310.45h6.25v18.75h-6.25zM289.6 316.7h6.25v25h-6.25zM295.85 322.95h6.25v25h-6.25zM302.1 335.45h6.25v18.75h-6.25zM308.35 335.45h6.25v18.75h-6.25zM314.6 335.45h6.25v31.25h-6.25zM320.85 347.95h6.25v25h-6.25zM327.1 354.2h6.25v25h-6.25zM333.35 360.45h6.25v18.75h-6.25zM339.6 366.7h6.25v18.75h-6.25zM345.85 366.7h6.25v18.75h-6.25zM352.1 366.7h6.25v18.75h-6.25zM358.35 372.95h6.25v18.75h-6.25zM364.6 372.95h6.25v18.75h-6.25zM370.85 372.95h6.25v18.75h-6.25zM377.1 372.95h6.25v18.75h-6.25zM383.35 372.95h6.25v18.75h-6.25zM389.6 354.2h6.25v31.25h-6.25zM395.85 341.7h6.25v37.5h-6.25zM402.1 335.45h6.25v25h-6.25zM408.35 335.45h6.25v18.75h-6.25zM414.6 341.7h6.25v25h-6.25zM420.85 347.95h6.25v25h-6.25zM427.1 360.45h6.25v18.75h-6.25zM433.35 360.45h6.25v18.75h-6.25zM439.6 360.45h6.25v18.75h-6.25zM445.85 366.7h6.25v18.75h-6.25zM452.1 360.45h6.25v25h-6.25zM458.35 354.2h6.25v25h-6.25zM464.6 347.95h6.25v18.75h-6.25zM470.85 347.95h6.25v18.75h-6.25zM477.1 341.7h6.25v18.75h-6.25zM483.35 347.95h6.25v18.75h-6.25zM489.6 354.2h6.25v18.75h-6.25zM495.85 354.2h6.25v18.75h-6.25zM502.1 354.2h6.25v18.75h-6.25zM508.35 354.2h6.25v18.75h-6.25zM514.6 347.95h6.25v18.75h-6.25zM520.85 347.95h6.25v18.75h-6.25zM527.1 341.7h6.25v18.75h-6.25zM533.35 335.45h6.25v25h-6.25zM539.6 329.2h6.25v25h-6.25zM545.85 316.7h6.25v31.25h-6.25zM552.1 310.45h6.25v25h-6.25zM558.35 304.2h6.25v18.75h-6.25zM564.6 297.95h6.25v18.75h-6.25zM570.85 291.7h6.25v18.75h-6.25zM577.1 285.45h6.25v18.75h-6.25zM583.35 285.45h6.25v18.75h-6.25zM589.6 285.45h6.25v18.75h-6.25zM595.85 291.7h6.25v25h-6.25zM602.1 297.95h6.25v18.75h-6.25zM608.35 304.2h6.25v18.75h-6.25zM614.6 304.2h6.25v18.75h-6.25zM620.85 304.2h6.25v18.75h-6.25zM627.1 304.2h6.25v18.75h-6.25zM633.35 304.2h6.25v18.75h-6.25zM639.6 297.95h6.25v18.75h-6.25zM645.85 291.7h6.25v18.75h-6.25zM652.1 291.7h6.25v18.75h-6.25zM658.35 291.7h6.25v18.75h-6.25zM664.6 291.7h6.25v25h-6.25zM670.85 304.2h6.25v18.75h-6.25zM677.1 304.2h6.25v18.75h-6.25zM683.35 310.45h6.25v18.75h-6.25zM689.6 304.2h6.25v18.75h-6.25zM695.85 304.2h6.25v18.75h-6.25zM702.1 297.95h6.25v18.75h-6.25zM708.35 297.95h6.25v18.75h-6.25zM714.6 297.95h6.25v18.75h-6.25zM720.85 297.95h6.25v18.75h-6.25zM727.1 297.95h6.25v18.75h-6.25zM733.35 304.2h6.25v18.75h-6.25zM739.6 304.2h6.25v18.75h-6.25zM745.85 304.2h6.25v25h-6.25zM752.1 310.45h6.25v25h-6.25zM758.35 316.7h6.25v25h-6.25zM764.6 316.7h6.25v18.75h-6.25zM770.85 316.7h6.25v18.75h-6.25zM777.1 310.45h6.25v25h-6.25zM783.35 310.45h6.25v18.75h-6.25zM789.6 316.7h6.25v18.75h-6.25zM795.85 322.95h6.25v12.5h-6.25zM802.1 322.95h6.25v12.5h-6.25zM808.35 322.95h6.25v18.75h-6.25zM814.6 322.95h6.25v12.5h-6.25zM820.85 316.7h6.25v18.75h-6.25zM827.1 316.7h6.25v18.75h-6.25zM833.35 316.7h6.25v18.75h-6.25zM839.6 316.7h6.25v18.75h-6.25zM845.85 322.95h6.25v18.75h-6.25zM852.1 329.2h6.25v18.75h-6.25zM858.35 329.2h6.25v18.75h-6.25zM864.6 329.2h6.25v18.75h-6.25zM870.85 322.95h6.25v18.75h-6.25zM877.1 322.95h6.25v18.75h-6.25zM883.35 316.7h6.25v25h-6.25zM889.6 304.2h6.25v31.25h-6.25zM895.85 285.45h6.25v37.5h-6.25zM902.1 272.95h6.25v31.25h-6.25zM908.35 272.95h6.25v18.75h-6.25zM914.6 279.2h6.25v50h-6.25zM920.85 291.7h6.25v62.5h-6.25zM927.1 329.2h6.25v31.25h-6.25zM933.35 347.95h6.25v18.75h-6.25zM939.6 347.95h6.25v18.75h-6.25zM945.85 347.95h6.25v18.75h-6.25zM952.1 347.95h6.25v18.75h-6.25zM958.35 347.95h6.25v25h-6.25zM964.6 354.2h6.25v18.75h-6.25zM970.85 341.7h6.25v25h-6.25zM977.1 329.2h6.25v37.5h-6.25zM983.35 322.95h6.25v25h-6.25zM989.6 322.95h6.25v18.75h-6.25zM995.85 329.2h6.25v31.25h-6.25zM1002.1 335.45h6.25v43.75h-6.25zM1008.35 354.2h6.25v25h-6.25zM1014.6 360.45h6.25v18.75h-6.25zM1020.85 341.7h6.25v31.25h-6.25zM1027.1 316.7h6.25v50h-6.25zM1033.35 297.95h6.25v43.75h-6.25zM1039.6 291.7h6.25v25h-6.25zM1045.85 291.7h6.25v31.25h-6.25zM1052.1 304.2h6.25v50h-6.25zM1058.35 322.95h6.25v56.25h-6.25zM1064.6 354.2h6.25v37.5h-6.25zM1070.85 372.95h6.25v18.75h-6.25zM1077.1 347.95h6.25v43.75h-6.25zM1083.35 285.45h6.25v100h-6.25zM1089.6 254.2h6.25v100h-6.25zM1095.85 241.7h6.25v50h-6.25zM1102.1 241.7h6.25v37.5h-6.25zM1108.35 247.95h6.25v93.75h-6.25zM1114.6 272.95h6.25v106.25h-6.25zM1120.85 335.45h6.25v62.5h-6.25zM1127.1 379.2h6.25v18.75h-6.25zM1133.35 385.45h6.25v18.75h-6.25zM1139.6 391.7h6.25v12.5h-6.25zM1145.85 391.7h6.25v12.5h-6.25zM1152.1 391.7h6.25v18.75h-6.25zM1158.35 391.7h6.25v18.75h-6.25zM1164.6 391.7h6.25v18.75h-6.25zM1170.85 391.7h6.25v18.75h-6.25zM1177.1 391.7h6.25v18.75h-6.25zM1183.35 391.7h6.25v18.75h-6.25zM1189.6 391.7h6.25v18.75h-6.25zM1195.85 391.7h6.25v18.75h-6.25zM1202.1 391.7h6.25v18.75h-6.25zM1208.35 391.7h6.25v18.75h-6.25zM1214.6 385.45h6.25v18.75h-6.25zM1220.85 385.45h6.25v18.75h-6.25zM1227.1 385.45h6.25v18.75h-6.25zM1233.35 391.7h6.25v18.75h-6.25zM1239.6 391.7h6.25v18.75h-6.25zM1245.85 391.7h6.25v18.75h-6.25zM1252.1 391.7h6.25v18.75h-6.25zM1258.35 391.7h6.25v18.75h-6.25zM1264.6 391.7h6.25v18.75h-6.25zM1270.85 397.95h6.25v18.75h-6.25zM1277.1 397.95h6.25v12.5h-6.25zM1283.35 391.7h6.25v18.75h-6.25zM1289.6 391.7h6.25v12.5h-6.25zM1295.85 391.7h6.25v12.5h-6.25zM1302.1 391.7h6.25v18.75h-6.25zM1308.35 391.7h6.25v18.75h-6.25zM1314.6 397.95h6.25v12.5h-6.25zM1320.85 397.95h6.25v18.75h-6.25zM1327.1 397.95h6.25v18.75h-6.25zM1333.35 404.2h6.25v12.5h-6.25zM1339.6 397.95h6.25v18.75h-6.25zM1345.85 397.95h6.25v18.75h-6.25zM1352.1 397.95h6.25v18.75h-6.25zM1358.35 404.2h6.25v12.5h-6.25zM1364.6 404.2h6.25v18.75h-6.25zM1370.85 397.95h6.25v18.75h-6.25zM1377.1 397.95h6.25v18.75h-6.25zM1383.35 391.7h6.25v18.75h-6.25zM1389.6 391.7h6.25v12.5h-6.25zM1395.85 391.7h6.25v18.75h-6.25zM1402.1 397.95h6.25v18.75h-6.25zM1408.35 397.95h6.25v18.75h-6.25zM1414.6 404.2h6.25v12.5h-6.25zM1420.85 404.2h6.25v12.5h-6.25zM1427.1 404.2h6.25v18.75h-6.25zM1433.35 404.2h6.25v18.75h-6.25zM1439.6 410.45h6.25v18.75h-6.25zM1445.85 410.45h6.25v18.75h-6.25zM1452.1 410.45h6.25v18.75h-6.25zM1458.35 410.45h6.25v12.5h-6.25zM1464.6 410.45h6.25v12.5h-6.25zM1470.85 410.45h6.25v12.5h-6.25zM1477.1 410.45h6.25v12.5h-6.25zM1483.35 404.2h6.25v18.75h-6.25zM1489.6 404.2h6.25v18.75h-6.25zM1495.85 404.2h6.25v18.75h-6.25zM1502.1 404.2h6.25v18.75h-6.25zM1508.35 404.2h6.25v18.75h-6.25zM1514.6 404.2h6.25v18.75h-6.25zM1520.85 404.2h6.25v12.5h-6.25zM1527.1 404.2h6.25v12.5h-6.25zM1533.35 404.2h6.25v12.5h-6.25zM1539.6 404.2h6.25v12.5h-6.25zM1545.85 404.2h6.25v12.5h-6.25zM1552.1 404.2h6.25v12.5h-6.25zM1558.35 404.2h6.25v18.75h-6.25zM1564.6 410.45h6.25v12.5h-6.25zM1570.85 410.45h6.25v18.75h-6.25zM1577.1 410.45h6.25v18.75h-6.25zM1583.35 416.7h6.25v12.5h-6.25zM1589.6 416.7h6.25v12.5h-6.25zM1595.85 416.7h6.25v18.75h-6.25zM1602.1 416.7h6.25v12.5h-6.25zM1608.35 416.7h6.25v12.5h-6.25zM1614.6 416.7h6.25v12.5h-6.25zM1620.85 416.7h6.25v12.5h-6.25zM1627.1 410.45h6.25v18.75h-6.25zM1633.35 410.45h6.25v18.75h-6.25zM1639.6 404.2h6.25v18.75h-6.25zM1645.85 404.2h6.25v18.75h-6.25zM1652.1 397.95h6.25v18.75h-6.25zM1658.35 397.95h6.25v18.75h-6.25zM1664.6 397.95h6.25v12.5h-6.25zM1670.85 397.95h6.25v18.75h-6.25zM1677.1 404.2h6.25v18.75h-6.25zM1683.35 404.2h6.25v18.75h-6.25zM1689.6 410.45h6.25v12.5h-6.25zM1695.85 410.45h6.25v12.5h-6.25zM1702.1 410.45h6.25v12.5h-6.25zM1708.35 410.45h6.25v18.75h-6.25zM1714.6 410.45h6.25v18.75h-6.25zM1720.85 410.45h6.25v18.75h-6.25zM1727.1 410.45h6.25v12.5h-6.25zM1733.35 410.45h6.25v12.5h-6.25zM1739.6 410.45h6.25v18.75h-6.25zM1745.85 410.45h6.25v18.75h-6.25zM1752.1 410.45h6.25v18.75h-6.25zM1758.35 416.7h6.25v12.5h-6.25zM1764.6 416.7h6.25v12.5h-6.25zM1770.85 416.7h6.25v18.75h-6.25zM1777.1 416.7h6.25v18.75h-6.25zM1783.35 416.7h6.25v18.75h-6.25zM1789.6 416.7h6.25v18.75h-6.25zM1795.85 416.7h6.25v18.75h-6.25zM1802.1 416.7h6.25v18.75h-6.25zM1808.35 416.7h6.25v18.75h-6.25zM1814.6 410.45h6.25v18.75h-6.25zM1820.85 410.45h6.25v18.75h-6.25zM1827.1 410.45h6.25v18.75h-6.25zM1833.35 410.45h6.25v12.5h-6.25zM1839.6 410.45h6.25v12.5h-6.25zM1845.85 404.2h6.25v18.75h-6.25zM1852.1 404.2h6.25v12.5h-6.25zM1858.35 404.2h6.25v12.5h-6.25zM1864.6 404.2h6.25v18.75h-6.25zM1870.85 404.2h6.25v18.75h-6.25zM1877.1 410.45h6.25v18.75h-6.25zM1883.35 410.45h6.25v18.75h-6.25zM1889.6 410.45h6.25v18.75h-6.25zM1895.85 410.45h6.25v18.75h-6.25zM1902.1 410.45h6.25v18.75h-6.25zM1908.35 410.45h6.25v18.75h-6.25zM1914.6 410.45h6.25v18.75h-6.25zM1920.85 416.7h6.25v12.5h-6.25zM1927.1 416.7h6.25v12.5h-6.25zM1933.35 416.7h6.25v18.75h-6.25zM1939.6 416.7h6.25v18.75h-6.25zM1945.85 416.7h6.25v18.75h-6.25zM1952.1 416.7h6.25v18.75h-6.25zM1958.35 422.95h6.25v12.5h-6.25zM1964.6 416.7h6.25v18.75h-6.25zM1970.85 416.7h6.25v18.75h-6.25zM1977.1 416.7h6.25v18.75h-6.25zM1983.35 416.7h6.25v18.75h-6.25zM1989.6 416.7h6.25v18.75h-6.25zM1995.85 416.7h6.25v18.75h-6.25zM2002.1 410.45h6.25v18.75h-6.25zM2008.35 410.45h6.25v12.5h-6.25zM2014.6 410.45h6.25v12.5h-6.25zM2020.85 410.45h6.25v12.5h-6.25zM2027.1 410.45h6.25v18.75h-6.25zM2033.35 416.7h6.25v12.5h-6.25zM2039.6 416.7h6.25v12.5h-6.25zM2045.85 416.7h6.25v18.75h-6.25zM2052.1 416.7h6.25v18.75h-6.25zM2058.35 422.95h6.25v18.75h-6.25zM2064.6 429.2h6.25v12.5h-6.25zM2070.85 429.2h6.25v12.5h-6.25zM2077.1 429.2h6.25v12.5h-6.25zM2083.35 429.2h6.25v12.5h-6.25zM2089.6 429.2h6.25v18.75h-6.25zM2095.85 429.2h6.25v18.75h-6.25zM2102.1 429.2h6.25v18.75h-6.25zM2108.35 429.2h6.25v18.75h-6.25zM2114.6 429.2h6.25v18.75h-6.25zM2120.85 429.2h6.25v18.75h-6.25zM2127.1 429.2h6.25v18.75h-6.25zM2133.35 429.2h6.25v18.75h-6.25zM2139.6 429.2h6.25v12.5h-6.25zM2145.85 422.95h6.25v18.75h-6.25zM2152.1 422.95h6.25v18.75h-6.25zM2158.35 422.95h6.25v18.75h-6.25zM2164.6 429.2h6.25v18.75h-6.25zM2170.85 429.2h6.25v18.75h-6.25zM2177.1 429.2h6.25v18.75h-6.25zM2183.35 429.2h6.25v18.75h-6.25zM2189.6 429.2h6.25v18.75h-6.25zM2195.85 429.2h6.25v18.75h-6.25zM2202.1 429.2h6.25v18.75h-6.25zM2208.35 435.45h6.25v12.5h-6.25zM2214.6 435.45h6.25v12.5h-6.25zM2220.85 435.45h6.25v12.5h-6.25zM2227.1 429.2h6.25v18.75h-6.25zM2233.35 429.2h6.25v18.75h-6.25zM2239.6 429.2h6.25v18.75h-6.25zM2245.85 429.2h6.25v18.75h-6.25zM2252.1 429.2h6.25v18.75h-6.25zM2258.35 429.2h6.25v18.75h-6.25zM2264.6 429.2h6.25v18.75h-6.25zM2270.85 435.45h6.25v12.5h-6.25zM2277.1 435.45h6.25v12.5h-6.25zM2283.35 429.2h6.25v18.75h-6.25zM2289.6 429.2h6.25v18.75h-6.25zM2295.85 429.2h6.25v18.75h-6.25zM2302.1 429.2h6.25v18.75h-6.25zM2308.35 429.2h6.25v18.75h-6.25zM2314.6 429.2h6.25v18.75h-6.25zM2320.85 429.2h6.25v18.75h-6.25zM2327.1 429.2h6.25v25h-6.25zM2333.35 435.45h6.25v18.75h-6.25zM2339.6 435.45h6.25v18.75h-6.25zM2345.85 435.45h6.25v18.75h-6.25zM2352.1 435.45h6.25v18.75h-6.25zM2358.35 435.45h6.25v18.75h-6.25zM2364.6 435.45h6.25v18.75h-6.25zM2370.85 435.45h6.25v12.5h-6.25z"/><path fill="#ff0000" d="M239.6 604.2h6.25v12.5h-6.25zM245.85 604.2h6.25v12.5h-6.25zM252.1 604.2h6.25v12.5h-6.25zM258.35 604.2h6.25v12.5h-6.25zM264.6 604.2h6.25v12.5h-6.25zM270.85 604.2h6.25v18.75h-6.25zM277.1 610.45h6.25v18.75h-6.25zM283.35 610.45h6.25v31.25h-6.25zM289.6 622.95h6.25v25h-6.25zM295.85 629.2h6.25v18.75h-6.25zM302.1 635.45h6.25v18.75h-6.25zM308.35 641.7h6.25v18.75h-6.25zM314.6 647.95h6.25v18.75h-6.25zM320.85 654.2h6.25v18.75h-6.25zM327.1 654.2h6.25v18.75h-6.25zM333.35 660.45h6.25v18.75h-6.25zM339.6 666.7h6.25v18.75h-6.25zM345.85 672.95h6.25v18.75h-6.25zM352.1 679.2h6.25v18.75h-6.25zM358.35 679.2h6.25v18.75h-6.25zM364.6 672.95h6.25v18.75h-6.25zM370.85 672.95h6.25v18.75h-6.25zM377.1 666.7h6.25v18.75h-6.25zM383.35 641.7h6.25v37.5h-6.25zM389.6 622.95h6.25v50h-6.25zM395.85 604.2h6.25v43.75h-6.25zM402.1 591.7h6.25v31.25h-6.25zM408.35 591.7h6.25v25h-6.25zM414.6 591.7h6.25v56.25h-6.25zM420.85 616.7h6.25v50h-6.25zM427.1 641.7h6.25v37.5h-6.25zM433.35 660.45h6.25v25h-6.25zM439.6 672.95h6.25v18.75h-6.25zM445.85 672.95h6.25v18.75h-6.25zM452.1 660.45h6.25v25h-6.25zM458.35 641.7h6.25v37.5h-6.25zM464.6 629.2h6.25v37.5h-6.25zM470.85 629.2h6.25v18.75h-6.25zM477.1 629.2h6.25v18.75h-6.25zM483.35 635.45h6.25v25h-6.25zM489.6 641.7h6.25v31.25h-6.25zM495.85 654.2h6.25v25h-6.25zM502.1 666.7h6.25v18.75h-6.25zM508.35 666.7h6.25v18.75h-6.25zM514.6 666.7h6.25v12.5h-6.25zM520.85 660.45h6.25v18.75h-6.25zM527.1 660.45h6.25v18.75h-6.25zM533.35 654.2h6.25v18.75h-6.25zM539.6 654.2h6.25v18.75h-6.25zM545.85 647.95h6.25v18.75h-6.25zM552.1 641.7h6.25v18.75h-6.25zM558.35 635.45h6.25v18.75h-6.25zM564.6 629.2h6.25v18.75h-6.25zM570.85 622.95h6.25v18.75h-6.25zM577.1 616.7h6.25v18.75h-6.25zM583.35 616.7h6.25v18.75h-6.25zM589.6 622.95h6.25v12.5h-6.25zM595.85 622.95h6.25v18.75h-6.25zM602.1 622.95h6.25v25h-6.25zM608.35 629.2h6.25v18.75h-6.25zM614.6 629.2h6.25v18.75h-6.25zM620.85 629.2h6.25v18.75h-6.25zM627.1 629.2h6.25v18.75h-6.25zM633.35 629.2h6.25v18.75h-6.25zM639.6 629.2h6.25v12.5h-6.25zM645.85 622.95h6.25v18.75h-6.25zM652.1 629.2h6.25v18.75h-6.25zM658.35 629.2h6.25v18.75h-6.25zM664.6 635.45h6.25v12.5h-6.25zM670.85 629.2h6.25v18.75h-6.25zM677.1 629.2h6.25v18.75h-6.25zM683.35 629.2h6.25v18.75h-6.25zM689.6 629.2h6.25v12.5h-6.25zM695.85 622.95h6.25v18.75h-6.25zM702.1 629.2h6.25v12.5h-6.25zM708.35 629.2h6.25v12.5h-6.25zM714.6 629.2h6.25v12.5h-6.25zM720.85 629.2h6.25v12.5h-6.25zM727.1 622.95h6.25v18.75h-6.25zM733.35 622.95h6.25v18.75h-6.25zM739.6 622.95h6.25v18.75h-6.25zM745.85 622.95h6.25v18.75h-6.25zM752.1 629.2h6.25v25h-6.25zM758.35 635.45h6.25v25h-6.25zM764.6 641.7h6.25v18.75h-6.25zM770.85 647.95h6.25v12.5h-6.25zM777.1 641.7h6.25v18.75h-6.25zM783.35 641.7h6.25v18.75h-6.25zM789.6 641.7h6.25v12.5h-6.25zM795.85 641.7h6.25v12.5h-6.25zM802.1 641.7h6.25v12.5h-6.25zM808.35 641.7h6.25v12.5h-6.25zM814.6 641.7h6.25v12.5h-6.25zM820.85 641.7h6.25v12.5h-6.25zM827.1 641.7h6.25v12.5h-6.25zM833.35 641.7h6.25v12.5h-6.25zM839.6 641.7h6.25v12.5h-6.25zM845.85 641.7h6.25v12.5h-6.25zM852.1 641.7h6.25v12.5h-6.25zM858.35 641.7h6.25v12.5h-6.25zM864.6 641.7h6.25v12.5h-6.25zM870.85 641.7h6.25v12.5h-6.25zM877.1 641.7h6.25v12.5h-6.25zM883.35 635.45h6.25v18.75h-6.25zM889.6 597.95h6.25v56.25h-6.25zM895.85 579.2h6.25v56.25h-6.25zM902.1 572.95h6.25v31.25h-6.25zM908.35 572.95h6.25v18.75h-6.25zM914.6 572.95h6.25v62.5h-6.25zM920.85 591.7h6.25v62.5h-6.25zM927.1 635.45h6.25v31.25h-6.25zM933.35 654.2h6.25v18.75h-6.25zM939.6 660.45h6.25v18.75h-6.25zM945.85 660.45h6.25v18.75h-6.25zM952.1 660.45h6.25v18.75h-6.25zM958.35 666.7h6.25v12.5h-6.25zM964.6 660.45h6.25v18.75h-6.25zM970.85 635.45h6.25v37.5h-6.25zM977.1 616.7h6.25v56.25h-6.25zM983.35 610.45h6.25v25h-6.25zM989.6 610.45h6.25v18.75h-6.25zM995.85 616.7h6.25v43.75h-6.25zM1002.1 616.7h6.25v62.5h-6.25zM1008.35 654.2h6.25v31.25h-6.25zM1014.6 666.7h6.25v18.75h-6.25zM1020.85 635.45h6.25v50h-6.25zM1027.1 585.45h6.25v87.5h-6.25zM1033.35 554.2h6.25v87.5h-6.25zM1039.6 541.7h6.25v43.75h-6.25zM1045.85 541.7h6.25v37.5h-6.25zM1052.1 554.2h6.25v87.5h-6.25zM1058.35 572.95h6.25v93.75h-6.25zM1064.6 635.45h6.25v43.75h-6.25zM1070.85 666.7h6.25v12.5h-6.25zM1077.1 666.7h6.25v18.75h-6.25zM1083.35 629.2h6.25v56.25h-6.25zM1089.6 597.95h6.25v68.75h-6.25zM1095.85 591.7h6.25v37.5h-6.25zM1102.1 591.7h6.25v18.75h-6.25zM1108.35 591.7h6.25v56.25h-6.25zM1114.6 604.2h6.25v68.75h-6.25zM1120.85 647.95h6.25v43.75h-6.25zM1127.1 672.95h6.25v25h-6.25zM1133.35 685.45h6.25v18.75h-6.25zM1139.6 691.7h6.25v12.5h-6.25zM1145.85 691.7h6.25v12.5h-6.25zM1152.1 691.7h6.25v12.5h-6.25zM1158.35 691.7h6.25v12.5h-6.25zM1164.6 691.7h6.25v12.5h-6.25zM1170.85 691.7h6.25v12.5h-6.25zM1177.1 691.7h6.25v18.75h-6.25zM1183.35 691.7h6.25v18.75h-6.25zM1189.6 697.95h6.25v18.75h-6.25zM1195.85 697.95h6.25v18.75h-6.25zM1202.1 691.7h6.25v18.75h-6.25zM1208.35 691.7h6.25v18.75h-6.25zM1214.6 691.7h6.25v18.75h-6.25zM1220.85 691.7h6.25v12.5h-6.25zM1227.1 691.7h6.25v12.5h-6.25zM1233.35 691.7h6.25v12.5h-6.25zM1239.6 691.7h6.25v18.75h-6.25zM1245.85 691.7h6.25v18.75h-6.25zM1252.1 697.95h6.25v12.5h-6.25zM1258.35 697.95h6.25v12.5h-6.25zM1264.6 697.95h6.25v12.5h-6.25zM1270.85 691.7h6.25v18.75h-6.25zM1277.1 691.7h6.25v18.75h-6.25zM1283.35 691.7h6.25v12.5h-6.25zM1289.6 685.45h6.25v18.75h-6.25zM1295.85 685.45h6.25v18.75h-6.25zM1302.1 685.45h6.25v12.5h-6.25zM1308.35 685.45h6.25v18.75h-6.25zM1314.6 685.45h6.25v18.75h-6.25zM1320.85 685.45h6.25v18.75h-6.25zM1327.1 691.7h6.25v18.75h-6.25zM1333.35 691.7h6.25v18.75h-6.25zM1339.6 697.95h6.25v12.5h-6.25zM1345.85 697.95h6.25v12.5h-6.25zM1352.1 697.95h6.25v12.5h-6.25zM1358.35 697.95h6.25v18.75h-6.25zM1364.6 697.95h6.25v18.75h-6.25zM1370.85 697.95h6.25v18.75h-6.25zM1377.1 691.7h6.25v18.75h-6.25zM1383.35 685.45h6.25v18.75h-6.25zM1389.6 679.2h6.25v18.75h-6.25zM1395.85 685.45h6.25v25h-6.25zM1402.1 691.7h6.25v31.25h-6.25zM1408.35 710.45h6.25v12.5h-6.25zM1414.6 710.45h6.25v12.5h-6.25zM1420.85 710.45h6.25v12.5h-6.25zM1427.1 710.45h6.25v12.5h-6.25zM1433.35 710.45h6.25v12.5h-6.25zM1439.6 710.45h6.25v12.5h-6.25zM1445.85 710.45h6.25v12.5h-6.25zM1452.1 710.45h6.25v12.5h-6.25zM1458.35 710.45h6.25v12.5h-6.25zM1464.6 710.45h6.25v12.5h-6.25zM1470.85 710.45h6.25v12.5h-6.25zM1477.1 710.45h6.25v12.5h-6.25zM1483.35 710.45h6.25v12.5h-6.25zM1489.6 710.45h6.25v12.5h-6.25zM1495.85 710.45h6.25v12.5h-6.25zM1502.1 710.45h6.25v12.5h-6.25zM1508.35 710.45h6.25v12.5h-6.25zM1514.6 704.2h6.25v18.75h-6.25zM1520.85 704.2h6.25v18.75h-6.25zM1527.1 704.2h6.25v12.5h-6.25zM1533.35 704.2h6.25v18.75h-6.25zM1539.6 704.2h6.25v18.75h-6.25zM1545.85 704.2h6.25v18.75h-6.25zM1552.1 704.2h6.25v18.75h-6.25zM1558.35 704.2h6.25v12.5h-6.25zM1564.6 704.2h6.25v18.75h-6.25zM1570.85 704.2h6.25v18.75h-6.25zM1577.1 710.45h6.25v12.5h-6.25zM1583.35 710.45h6.25v12.5h-6.25zM1589.6 710.45h6.25v12.5h-6.25zM1595.85 710.45h6.25v18.75h-6.25zM1602.1 710.45h6.25v18.75h-6.25zM1608.35 710.45h6.25v18.75h-6.25zM1614.6 710.45h6.25v18.75h-6.25zM1620.85 704.2h6.25v18.75h-6.25zM1627.1 704.2h6.25v18.75h-6.25zM1633.35 704.2h6.25v12.5h-6.25zM1639.6 697.95h6.25v18.75h-6.25zM1645.85 691.7h6.25v18.75h-6.25zM1652.1 685.45h6.25v25h-6.25zM1658.35 679.2h6.25v25h-6.25zM1664.6 672.95h6.25v25h-6.25zM1670.85 672.95h6.25v25h-6.25zM1677.1 685.45h6.25v25h-6.25zM1683.35 691.7h6.25v31.25h-6.25zM1689.6 704.2h6.25v25h-6.25zM1695.85 710.45h6.25v18.75h-6.25zM1702.1 710.45h6.25v18.75h-6.25zM1708.35 710.45h6.25v12.5h-6.25zM1714.6 704.2h6.25v18.75h-6.25zM1720.85 704.2h6.25v18.75h-6.25zM1727.1 710.45h6.25v12.5h-6.25zM1733.35 710.45h6.25v18.75h-6.25zM1739.6 710.45h6.25v18.75h-6.25zM1745.85 710.45h6.25v18.75h-6.25zM1752.1 710.45h6.25v18.75h-6.25zM1758.35 710.45h6.25v18.75h-6.25zM1764.6 710.45h6.25v18.75h-6.25zM1770.85 710.45h6.25v18.75h-6.25zM1777.1 710.45h6.25v12.5h-6.25zM1783.35 710.45h6.25v18.75h-6.25zM1789.6 710.45h6.25v18.75h-6.25zM1795.85 710.45h6.25v18.75h-6.25zM1802.1 710.45h6.25v18.75h-6.25zM1808.35 710.45h6.25v18.75h-6.25zM1814.6 710.45h6.25v18.75h-6.25zM1820.85 710.45h6.25v12.5h-6.25zM1827.1 704.2h6.25v18.75h-6.25zM1833.35 704.2h6.25v12.5h-6.25zM1839.6 697.95h6.25v18.75h-6.25zM1845.85 691.7h6.25v18.75h-6.25zM1852.1 691.7h6.25v12.5h-6.25zM1858.35 691.7h6.25v18.75h-6.25zM1864.6 697.95h6.25v18.75h-6.25zM1870.85 704.2h6.25v18.75h-6.25zM1877.1 710.45h6.25v18.75h-6.25zM1883.35 710.45h6.25v18.75h-6.25zM1889.6 710.45h6.25v12.5h-6.25zM1895.85 710.45h6.25v12.5h-6.25zM1902.1 710.45h6.25v12.5h-6.25zM1908.35 710.45h6.25v12.5h-6.25zM1914.6 710.45h6.25v12.5h-6.25zM1920.85 710.45h6.25v12.5h-6.25zM1927.1 710.45h6.25v18.75h-6.25zM1933.35 710.45h6.25v18.75h-6.25zM1939.6 710.45h6.25v18.75h-6.25zM1945.85 716.7h6.25v12.5h-6.25zM1952.1 716.7h6.25v18.75h-6.25zM1958.35 716.7h6.25v18.75h-6.25zM1964.6 716.7h6.25v12.5h-6.25zM1970.85 716.7h6.25v12.5h-6.25zM1977.1 716.7h6.25v12.5h-6.25zM1983.35 710.45h6.25v18.75h-6.25zM1989.6 704.2h6.25v18.75h-6.25zM1995.85 704.2h6.25v18.75h-6.25zM2002.1 697.95h6.25v18.75h-6.25zM2008.35 691.7h6.25v18.75h-6.25zM2014.6 691.7h6.25v18.75h-6.25zM2020.85 691.7h6.25v18.75h-6.25zM2027.1 697.95h6.25v18.75h-6.25zM2033.35 704.2h6.25v18.75h-6.25zM2039.6 704.2h6.25v25h-6.25zM2045.85 710.45h6.25v18.75h-6.25zM2052.1 716.7h6.25v12.5h-6.25zM2058.35 716.7h6.25v12.5h-6.25zM2064.6 716.7h6.25v18.75h-6.25zM2070.85 716.7h6.25v18.75h-6.25zM2077.1 716.7h6.25v18.75h-6.25zM2083.35 722.95h6.25v12.5h-6.25zM2089.6 722.95h6.25v12.5h-6.25zM2095.85 722.95h6.25v12.5h-6.25zM2102.1 722.95h6.25v12.5h-6.25zM2108.35 722.95h6.25v12.5h-6.25zM2114.6 722.95h6.25v12.5h-6.25zM2120.85 722.95h6.25v12.5h-6.25zM2127.1 722.95h6.25v18.75h-6.25zM2133.35 722.95h6.25v12.5h-6.25zM2139.6 722.95h6.25v12.5h-6.25zM2145.85 722.95h6.25v12.5h-6.25zM2152.1 722.95h6.25v12.5h-6.25zM2158.35 722.95h6.25v12.5h-6.25zM2164.6 716.7h6.25v18.75h-6.25zM2170.85 716.7h6.25v18.75h-6.25zM2177.1 722.95h6.25v12.5h-6.25zM2183.35 722.95h6.25v18.75h-6.25zM2189.6 722.95h6.25v18.75h-6.25zM2195.85 722.95h6.25v18.75h-6.25zM2202.1 729.2h6.25v12.5h-6.25zM2208.35 729.2h6.25v12.5h-6.25zM2214.6 729.2h6.25v12.5h-6.25zM2220.85 729.2h6.25v12.5h-6.25zM2227.1 729.2h6.25v12.5h-6.25zM2233.35 729.2h6.25v12.5h-6.25zM2239.6 729.2h6.25v12.5h-6.25zM2245.85 722.95h6.25v18.75h-6.25zM2252.1 722.95h6.25v18.75h-6.25zM2258.35 722.95h6.25v18.75h-6.25zM2264.6 722.95h6.25v12.5h-6.25zM2270.85 722.95h6.25v12.5h-6.25zM2277.1 722.95h6.25v12.5h-6.25zM2283.35 722.95h6.25v12.5h-6.25zM2289.6 722.95h6.25v18.75h-6.25zM2295.85 722.95h6.25v18.75h-6.25zM2302.1 722.95h6.25v12.5h-6.25zM2308.35 722.95h6.25v12.5h-6.25zM2314.6 722.95h6.25v12.5h-6.25zM2320.85 722.95h6.25v18.75h-6.25zM2327.1 729.2h6.25v12.5h-6.25zM2333.35 729.2h6.25v12.5h-6.25zM2339.6 729.2h6.25v12.5h-6.25zM2345.85 729.2h6.25v12.5h-6.25zM2352.1 729.2h6.25v12.5h-6.25zM2358.35 729.2h6.25v12.5h-6.25zM2364.6 729.2h6.25v12.5h-6.25zM2370.85 729.2h6.25v12.5h-6.25z"/><path fill="#000000" d="M239.6 966.7h6.25v18.75h-6.25zM245.85 972.95h6.25v18.75h-6.25zM252.1 972.95h6.25v18.75h-6.25zM258.35 972.95h6.25v18.75h-6.25zM264.6 972.95h6.25v25h-6.25zM270.85 979.2h6.25v18.75h-6.25zM277.1 985.45h6.25v18.75h-6.25zM283.35 985.45h6.25v18.75h-6.25zM289.6 985.45h6.25v18.75h-6.25zM295.85 985.45h6.25v18.75h-6.25zM302.1 991.7h6.25v18.75h-6.25zM308.35 991.7h6.25v18.75h-6.25zM314.6 991.7h6.25v25h-6.25zM320.85 997.95h6.25v31.25h-6.25zM327.1 1010.45h6.25v25h-6.25zM333.35 1016.7h6.25v25h-6.25zM339.6 1029.2h6.25v18.75h-6.25zM345.85 1035.45h6.25v18.75h-6.25zM352.1 1035.45h6.25v25h-6.25zM358.35 1041.7h6.25v18.75h-6.25zM364.6 1047.95h6.25v18.75h-6.25zM370.85 1047.95h6.25v18.75h-6.25zM377.1 1047.95h6.25v18.75h-6.25zM383.35 1047.95h6.25v18.75h-6.25zM389.6 1035.45h6.25v25h-6.25zM395.85 1029.2h6.25v25h-6.25zM402.1 1029.2h6.25v18.75h-6.25zM408.35 1029.2h6.25v18.75h-6.25zM414.6 1035.45h6.25v25h-6.25zM420.85 1041.7h6.25v25h-6.25zM427.1 1047.95h6.25v18.75h-6.25zM433.35 1047.95h6.25v18.75h-6.25zM439.6 1047.95h6.25v18.75h-6.25zM445.85 1047.95h6.25v18.75h-6.25zM452.1 1047.95h6.25v18.75h-6.25zM458.35 1041.7h6.25v18.75h-6.25zM464.6 1035.45h6.25v18.75h-6.25zM470.85 1022.95h6.25v25h-6.25zM477.1 1016.7h6.25v25h-6.25zM483.35 1016.7h6.25v18.75h-6.25zM489.6 1016.7h6.25v18.75h-6.25zM495.85 1016.7h6.25v25h-6.25zM502.1 1022.95h6.25v25h-6.25zM508.35 1022.95h6.25v25h-6.25zM514.6 1022.95h6.25v18.75h-6.25zM520.85 1010.45h6.25v25h-6.25zM527.1 1010.45h6.25v18.75h-6.25zM533.35 1010.45h6.25v18.75h-6.25zM539.6 1010.45h6.25v18.75h-6.25zM545.85 1004.2h6.25v25h-6.25zM552.1 1004.2h6.25v18.75h-6.25zM558.35 997.95h6.25v18.75h-6.25zM564.6 991.7h6.25v25h-6.25zM570.85 991.7h6.25v18.75h-6.25zM577.1 985.45h6.25v25h-6.25zM583.35 985.45h6.25v18.75h-6.25zM589.6 979.2h6.25v18.75h-6.25zM595.85 979.2h6.25v18.75h-6.25zM602.1 985.45h6.25v18.75h-6.25zM608.35 985.45h6.25v25h-6.25zM614.6 985.45h6.25v18.75h-6.25zM620.85 979.2h6.25v25h-6.25zM627.1 979.2h6.25v18.75h-6.25zM633.35 979.2h6.25v18.75h-6.25zM639.6 979.2h6.25v18.75h-6.25zM645.85 979.2h6.25v18.75h-6.25zM652.1 979.2h6.25v18.75h-6.25zM658.35 979.2h6.25v18.75h-6.25zM664.6 979.2h6.25v25h-6.25zM670.85 985.45h6.25v18.75h-6.25zM677.1 985.45h6.25v18.75h-6.25zM683.35 985.45h6.25v18.75h-6.25zM689.6 985.45h6.25v18.75h-6.25zM695.85 985.45h6.25v18.75h-6.25zM702.1 985.45h6.25v18.75h-6.25zM708.35 985.45h6.25v18.75h-6.25zM714.6 985.45h6.25v18.75h-6.25zM720.85 985.45h6.25v18.75h-6.25zM727.1 985.45h6.25v18.75h-6.25zM733.35 985.45h6.25v18.75h-6.25zM739.6 979.2h6.25v18.75h-6.25zM745.85 979.2h6.25v18.75h-6.25zM752.1 979.2h6.25v18.75h-6.25zM758.35 979.2h6.25v18.75h-6.25zM764.6 979.2h6.25v18.75h-6.25zM770.85 979.2h6.25v18.75h-6.25zM777.1 979.2h6.25v18.75h-6.25zM783.35 985.45h6.25v12.5h-6.25zM789.6 985.45h6.25v18.75h-6.25zM795.85 985.45h6.25v18.75h-6.25zM802.1 991.7h6.25v12.5h-6.25zM808.35 985.45h6.25v18.75h-6.25zM814.6 985.45h6.25v18.75h-6.25zM820.85 985.45h6.25v12.5h-6.25zM827.1 985.45h6.25v18.75h-6.25zM833.35 991.7h6.25v18.75h-6.25zM839.6 997.95h6.25v18.75h-6.25zM845.85 997.95h6.25v12.5h-6.25zM852.1 991.7h6.25v18.75h-6.25zM858.35 997.95h6.25v18.75h-6.25zM864.6 1004.2h6.25v18.75h-6.25zM870.85 1010.45h6.25v18.75h-6.25zM877.1 1010.45h6.25v18.75h-6.25zM883.35 979.2h6.25v43.75h-6.25zM889.6 904.2h6.25v118.75h-6.25zM895.85 860.45h6.25v125h-6.25zM902.1 854.2h6.25v56.25h-6.25zM908.35 854.2h6.25v31.25h-6.25zM914.6 854.2h6.25v106.25h-6.25zM920.85 885.45h6.25v118.75h-6.25zM927.1 960.45h6.25v62.5h-6.25zM933.35 997.95h6.25v25h-6.25zM939.6 1010.45h6.25v12.5h-6.25zM945.85 1010.45h6.25v18.75h-6.25zM952.1 1010.45h6.25v18.75h-6.25zM958.35 1010.45h6.25v18.75h-6.25zM964.6 991.7h6.25v31.25h-6.25zM970.85 941.7h6.25v81.25h-6.25zM977.1 922.95h6.25v68.75h-6.25zM983.35 916.7h6.25v25h-6.25zM989.6 916.7h6.25v25h-6.25zM995.85 922.95h6.25v81.25h-6.25zM1002.1 935.45h6.25v87.5h-6.25zM1008.35 1004.2h6.25v25h-6.25zM1014.6 1004.2h6.25v25h-6.25zM1020.85 935.45h6.25v87.5h-6.25zM1027.1 860.45h6.25v150h-6.25zM1033.35 816.7h6.25v125h-6.25zM1039.6 804.2h6.25v56.25h-6.25zM1045.85 804.2h6.25v68.75h-6.25zM1052.1 816.7h6.25v168.75h-6.25zM1058.35 866.7h6.25v162.5h-6.25zM1064.6 985.45h6.25v62.5h-6.25zM1070.85 1029.2h6.25v18.75h-6.25zM1077.1 1029.2h6.25v18.75h-6.25zM1083.35 1004.2h6.25v43.75h-6.25zM1089.6 966.7h6.25v68.75h-6.25zM1095.85 960.45h6.25v43.75h-6.25zM1102.1 960.45h6.25v25h-6.25zM1108.35 966.7h6.25v56.25h-6.25zM1114.6 979.2h6.25v75h-6.25zM1120.85 1016.7h6.25v50h-6.25zM1127.1 1047.95h6.25v25h-6.25zM1133.35 1054.2h6.25v18.75h-6.25zM1139.6 1060.45h6.25v12.5h-6.25zM1145.85 1060.45h6.25v12.5h-6.25zM1152.1 1060.45h6.25v12.5h-6.25zM1158.35 1060.45h6.25v12.5h-6.25zM1164.6 1060.45h6.25v12.5h-6.25zM1170.85 1060.45h6.25v12.5h-6.25zM1177.1 1060.45h6.25v18.75h-6.25zM1183.35 1060.45h6.25v18.75h-6.25zM1189.6 1066.7h6.25v12.5h-6.25zM1195.85 1066.7h6.25v12.5h-6.25zM1202.1 1066.7h6.25v12.5h-6.25zM1208.35 1066.7h6.25v12.5h-6.25zM1214.6 1060.45h6.25v18.75h-6.25zM1220.85 1060.45h6.25v12.5h-6.25zM1227.1 1054.2h6.25v18.75h-6.25zM1233.35 1054.2h6.25v18.75h-6.25zM1239.6 1054.2h6.25v18.75h-6.25zM1245.85 1060.45h6.25v12.5h-6.25zM1252.1 1060.45h6.25v18.75h-6.25zM1258.35 1066.7h6.25v12.5h-6.25zM1264.6 1060.45h6.25v18.75h-6.25zM1270.85 1060.45h6.25v18.75h-6.25zM1277.1 1060.45h6.25v12.5h-6.25zM1283.35 1054.2h6.25v18.75h-6.25zM1289.6 1054.2h6.25v12.5h-6.25zM1295.85 1054.2h6.25v12.5h-6.25zM1302.1 1054.2h6.25v12.5h-6.25zM1308.35 1054.2h6.25v25h-6.25zM1314.6 1060.45h6.25v18.75h-6.25zM1320.85 1066.7h6.25v18.75h-6.25zM1327.1 1066.7h6.25v18.75h-6.25zM1333.35 1066.7h6.25v18.75h-6.25zM1339.6 1066.7h6.25v18.75h-6.25zM1345.85 1066.7h6.25v18.75h-6.25zM1352.1 1066.7h6.25v18.75h-6.25zM1358.35 1066.7h6.25v12.5h-6.25zM1364.6 1060.45h6.25v18.75h-6.25zM1370.85 1054.2h6.25v18.75h-6.25zM1377.1 1047.95h6.25v18.75h-6.25zM1383.35 1041.7h6.25v18.75h-6.25zM1389.6 1041.7h6.25v18.75h-6.25zM1395.85 1041.7h6.25v18.75h-6.25zM1402.1 1047.95h6.25v25h-6.25zM1408.35 1054.2h6.25v25h-6.25zM1414.6 1066.7h6.25v12.5h-6.25zM1420.85 1066.7h6.25v18.75h-6.25zM1427.1 1072.95h6.25v12.5h-6.25zM1433.35 1072.95h6.25v18.75h-6.25zM1439.6 1072.95h6.25v18.75h-6.25zM1445.85 1072.95h6.25v18.75h-6.25zM1452.1 1072.95h6.25v18.75h-6.25zM1458.35 1072.95h6.25v18.75h-6.25zM1464.6 1072.95h6.25v12.5h-6.25zM1470.85 1072.95h6.25v12.5h-6.25zM1477.1 1072.95h6.25v12.5h-6.25zM1483.35 1072.95h6.25v12.5h-6.25zM1489.6 1072.95h6.25v12.5h-6.25zM1495.85 1072.95h6.25v18.75h-6.25zM1502.1 1072.95h6.25v18.75h-6.25zM1508.35 1072.95h6.25v18.75h-6.25zM1514.6 1072.95h6.25v18.75h-6.25zM1520.85 1072.95h6.25v18.75h-6.25zM1527.1 1072.95h6.25v18.75h-6.25zM1533.35 1072.95h6.25v18.75h-6.25zM1539.6 1072.95h6.25v18.75h-6.25zM1545.85 1079.2h6.25v18.75h-6.25zM1552.1 1079.2h6.25v18.75h-6.25zM1558.35 1079.2h6.25v12.5h-6.25zM1564.6 1072.95h6.25v18.75h-6.25zM1570.85 1072.95h6.25v18.75h-6.25zM1577.1 1072.95h6.25v12.5h-6.25zM1583.35 1072.95h6.25v12.5h-6.25zM1589.6 1072.95h6.25v18.75h-6.25zM1595.85 1072.95h6.25v18.75h-6.25zM1602.1 1072.95h6.25v18.75h-6.25zM1608.35 1072.95h6.25v18.75h-6.25zM1614.6 1072.95h6.25v12.5h-6.25zM1620.85 1072.95h6.25v18.75h-6.25zM1627.1 1079.2h6.25v18.75h-6.25zM1633.35 1079.2h6.25v18.75h-6.25zM1639.6 1066.7h6.25v25h-6.25zM1645.85 1041.7h6.25v43.75h-6.25zM1652.1 1029.2h6.25v43.75h-6.25zM1658.35 1016.7h6.25v31.25h-6.25zM1664.6 1016.7h6.25v25h-6.25zM1670.85 1022.95h6.25v37.5h-6.25zM1677.1 1035.45h6.25v43.75h-6.25zM1683.35 1060.45h6.25v25h-6.25zM1689.6 1072.95h6.25v12.5h-6.25zM1695.85 1072.95h6.25v18.75h-6.25zM1702.1 1072.95h6.25v18.75h-6.25zM1708.35 1072.95h6.25v18.75h-6.25zM1714.6 1072.95h6.25v18.75h-6.25zM1720.85 1072.95h6.25v12.5h-6.25zM1727.1 1072.95h6.25v12.5h-6.25zM1733.35 1072.95h6.25v12.5h-6.25zM1739.6 1072.95h6.25v12.5h-6.25zM1745.85 1072.95h6.25v12.5h-6.25zM1752.1 1072.95h6.25v18.75h-6.25zM1758.35 1072.95h6.25v18.75h-6.25zM1764.6 1079.2h6.25v12.5h-6.25zM1770.85 1079.2h6.25v12.5h-6.25zM1777.1 1079.2h6.25v18.75h-6.25zM1783.35 1079.2h6.25v18.75h-6.25zM1789.6 1079.2h6.25v18.75h-6.25zM1795.85 1079.2h6.25v18.75h-6.25zM1802.1 1079.2h6.25v18.75h-6.25zM1808.35 1079.2h6.25v18.75h-6.25zM1814.6 1079.2h6.25v18.75h-6.25zM1820.85 1079.2h6.25v18.75h-6.25zM1827.1 1072.95h6.25v18.75h-6.25zM1833.35 1060.45h6.25v25h-6.25zM1839.6 1041.7h6.25v37.5h-6.25zM1845.85 1029.2h6.25v37.5h-6.25zM1852.1 1022.95h6.25v25h-6.25zM1858.35 1022.95h6.25v25h-6.25zM1864.6 1029.2h6.25v43.75h-6.25zM1870.85 1047.95h6.25v37.5h-6.25zM1877.1 1066.7h6.25v18.75h-6.25zM1883.35 1072.95h6.25v18.75h-6.25zM1889.6 1072.95h6.25v18.75h-6.25zM1895.85 1072.95h6.25v18.75h-6.25zM1902.1 1072.95h6.25v18.75h-6.25zM1908.35 1072.95h6.25v18.75h-6.25zM1914.6 1072.95h6.25v18.75h-6.25zM1920.85 1072.95h6.25v18.75h-6.25zM1927.1 1072.95h6.25v18.75h-6.25zM1933.35 1072.95h6.25v18.75h-6.25zM1939.6 1072.95h6.25v18.75h-6.25zM1945.85 1072.95h6.25v12.5h-6.25zM1952.1 1072.95h6.25v12.5h-6.25zM1958.35 1072.95h6.25v12.5h-6.25zM1964.6 1066.7h6.25v18.75h-6.25zM1970.85 1066.7h6.25v25h-6.25zM1977.1 1072.95h6.25v25h-6.25zM1983.35 1079.2h6.25v18.75h-6.25zM1989.6 1079.2h6.25v18.75h-6.25zM1995.85 1060.45h6.25v37.5h-6.25zM2002.1 1047.95h6.25v37.5h-6.25zM2008.35 1041.7h6.25v25h-6.25zM2014.6 1041.7h6.25v25h-6.25zM2020.85 1047.95h6.25v25h-6.25zM2027.1 1060.45h6.25v18.75h-6.25zM2033.35 1066.7h6.25v12.5h-6.25zM2039.6 1066.7h6.25v18.75h-6.25zM2045.85 1066.7h6.25v18.75h-6.25zM2052.1 1066.7h6.25v18.75h-6.25zM2058.35 1072.95h6.25v18.75h-6.25zM2064.6 1079.2h6.25v18.75h-6.25zM2070.85 1079.2h6.25v18.75h-6.25zM2077.1 1085.45h6.25v18.75h-6.25zM2083.35 1085.45h6.25v18.75h-6.25zM2089.6 1085.45h6.25v18.75h-6.25zM2095.85 1085.45h6.25v18.75h-6.25zM2102.1 1085.45h6.25v18.75h-6.25zM2108.35 1091.7h6.25v12.5h-6.25zM2114.6 1091.7h6.25v18.75h-6.25zM2120.85 1097.95h6.25v12.5h-6.25zM2127.1 1097.95h6.25v12.5h-6.25zM2133.35 1097.95h6.25v12.5h-6.25zM2139.6 1091.7h6.25v18.75h-6.25zM2145.85 1085.45h6.25v18.75h-6.25zM2152.1 1085.45h6.25v12.5h-6.25zM2158.35 1079.2h6.25v18.75h-6.25zM2164.6 1085.45h6.25v18.75h-6.25zM2170.85 1091.7h6.25v12.5h-6.25zM2177.1 1091.7h6.25v12.5h-6.25zM2183.35 1091.7h6.25v18.75h-6.25zM2189.6 1091.7h6.25v18.75h-6.25zM2195.85 1091.7h6.25v18.75h-6.25zM2202.1 1091.7h6.25v18.75h-6.25zM2208.35 1091.7h6.25v18.75h-6.25zM2214.6 1091.7h6.25v18.75h-6.25zM2220.85 1091.7h6.25v18.75h-6.25zM2227.1 1091.7h6.25v18.75h-6.25zM2233.35 1091.7h6.25v18.75h-6.25zM2239.6 1091.7h6.25v18.75h-6.25zM2245.85 1091.7h6.25v18.75h-6.25zM2252.1 1091.7h6.25v18.75h-6.25zM2258.35 1091.7h6.25v18.75h-6.25zM2264.6 1091.7h6.25v12.5h-6.25zM2270.85 1091.7h6.25v12.5h-6.25zM2277.1 1085.45h6.25v18.75h-6.25zM2283.35 1085.45h6.25v12.5h-6.25zM2289.6 1085.45h6.25v12.5h-6.25zM2295.85 1085.45h6.25v18.75h-6.25zM2302.1 1091.7h6.25v18.75h-6.25zM2308.35 1097.95h6.25v12.5h-6.25zM2314.6 1097.95h6.25v12.5h-6.25zM2320.85 1097.95h6.25v12.5h-6.25zM2327.1 1097.95h6.25v12.5h-6.25zM2333.35 1097.95h6.25v12.5h-6.25zM2339.6 1097.95h6.25v18.75h-6.25zM2345.85 1097.95h6.25v18.75h-6.25zM2352.1 1097.95h6.25v18.75h-6.25zM2358.35 1097.95h6.25v18.75h-6.25zM2364.6 1097.95h6.25v18.75h-6.25zM2370.85 1097.95h6.25v18.75h-6.25z"/></g><g filter="url(#f0)"><circle cx="908" cy="820" r="14" fill="#ff0000"/><circle cx="990" cy="882.5" r="14" fill="#ff0000"/><circle cx="1040" cy="776" r="14" fill="#ff0000"/></g><g filter="url(#f1)"><circle cx="1390" cy="1001" r="14" fill="#ff0000"/><circle cx="1677" cy="982" r="14" fill="#ff0000"/><circle cx="1852" cy="988.7" r="14" fill="#ff0000"/><circle cx="1965" cy="1013.4" r="14" fill="#ff0000"/><circle cx="2014.7" cy="988.7" r="14" fill="#ff0000"/><circle cx="2052" cy="1019.8" r="14" fill="#ff0000"/><circle cx="2152" cy="1045" r="14" fill="#ff0000"/><circle cx="2283.5" cy="1051" r="14" fill="#ff0000"/></g><g filter="url(#f2)"><circle cx="2305" cy="97.8" r="14" fill="#ff0000"/><text font-family="'Liberation Serif',serif" font-size="65" fill="#ff0000" text-anchor="start" textLength="113" lengthAdjust="spacing" x="2096" y="116.5" xml:space="preserve">ZnO</text></g><g filter="url(#f3)"><text font-family="'Liberation Serif',serif" font-size="62.5" fill="#ff0000" text-anchor="start" textLength="905" lengthAdjust="spacing" x="1441.5" y="647.4" xml:space="preserve">Au-decorated ZnO-PANI(25 wt. %)</text></g><g filter="url(#f4)"><path fill="#ff40ad" d="M1105.3 904.8L1126.3 929.3L1105.3 953.8L1084.3 929.3z"/><path fill="#ff40ad" d="M1299 998.5L1320 1023L1299 1047.5L1278 1023z"/></g><g filter="url(#f5)"><path fill="#ff40ad" d="M2309 166L2322.5 185L2309 204L2295.5 185z"/><text font-family="'Liberation Serif',serif" font-size="65" fill="#ff40ad" text-anchor="start" textLength="81" lengthAdjust="spacing" x="2096" y="203.7" xml:space="preserve">Au</text></g><g filter="url(#f6)"><text font-family="'Liberation Serif',serif" font-size="62.5" fill="#0000ff" text-anchor="start" textLength="900" lengthAdjust="spacing" x="1465" y="385.3" xml:space="preserve">Au-decorated ZnO-PANI(50 wt. %)</text></g><g filter="url(#f7)"><text font-family="'Liberation Serif',serif" font-size="80" fill="#333" text-anchor="middle" font-weight="bold" x="405" y="1038" xml:space="preserve" fill-opacity="0.72">*</text><text font-family="'Liberation Serif',serif" font-size="80" fill="#333" text-anchor="middle" font-weight="bold" x="592.8" y="981.6" xml:space="preserve" fill-opacity="0.72">*</text><text font-family="'Liberation Serif',serif" font-size="80" fill="#333" text-anchor="middle" font-weight="bold" x="749" y="981.6" xml:space="preserve" fill-opacity="0.72">*</text><text font-family="'Liberation Serif',serif" font-size="64" fill="#333" text-anchor="start" font-weight="bold" textLength="120" lengthAdjust="spacing" transform="translate(424 973.5) rotate(-90)" xml:space="preserve">(100)</text><text font-family="'Liberation Serif',serif" font-size="64" fill="#333" text-anchor="start" font-weight="bold" textLength="120" lengthAdjust="spacing" transform="translate(605 910.8) rotate(-90)" xml:space="preserve">(020)</text><text font-family="'Liberation Serif',serif" font-size="64" fill="#333" text-anchor="start" font-weight="bold" textLength="120" lengthAdjust="spacing" transform="translate(767.5 904.8) rotate(-90)" xml:space="preserve">(200)</text></g><g filter="url(#f8)"><text font-family="'Liberation Serif',serif" font-size="64" fill="#333" text-anchor="middle" font-weight="bold" x="2299" y="297" xml:space="preserve" fill-opacity="0.85">*</text></g><g clip-path="url(#lowclip)"><g filter="url(#f9)"><text font-family="'Liberation Serif',serif" font-size="58" fill="#333" text-anchor="start" font-weight="bold" textLength="113" lengthAdjust="spacing" transform="translate(915.9 1454.4) rotate(-90)" xml:space="preserve">(100)</text><text font-family="'Liberation Serif',serif" font-size="58" fill="#333" text-anchor="start" font-weight="bold" textLength="113" lengthAdjust="spacing" transform="translate(997.8 1479.3) rotate(-90)" xml:space="preserve">(002)</text><text font-family="'Liberation Serif',serif" font-size="58" fill="#333" text-anchor="start" font-weight="bold" textLength="113" lengthAdjust="spacing" transform="translate(1060 1310.7) rotate(-90)" xml:space="preserve">(101)</text><text font-family="'Liberation Serif',serif" font-size="58" fill="#333" text-anchor="start" font-weight="bold" textLength="113" lengthAdjust="spacing" transform="translate(1116.5 1366.7) rotate(-90)" xml:space="preserve">(111)</text><text font-family="'Liberation Serif',serif" font-size="58" fill="#333" text-anchor="start" font-weight="bold" textLength="113" lengthAdjust="spacing" transform="translate(1303.9 1572.6) rotate(-90)" xml:space="preserve">(200)</text><text font-family="'Liberation Serif',serif" font-size="58" fill="#333" text-anchor="start" font-weight="bold" textLength="113" lengthAdjust="spacing" transform="translate(1397.7 1541.5) rotate(-90)" xml:space="preserve">(102)</text><text font-family="'Liberation Serif',serif" font-size="58" fill="#333" text-anchor="start" font-weight="bold" textLength="113" lengthAdjust="spacing" transform="translate(1685.5 1516.6) rotate(-90)" xml:space="preserve">(110)</text><text font-family="'Liberation Serif',serif" font-size="58" fill="#333" text-anchor="start" font-weight="bold" textLength="113" lengthAdjust="spacing" transform="translate(1873.1 1529.1) rotate(-90)" xml:space="preserve">(103)</text><text font-family="'Liberation Serif',serif" font-size="58" fill="#333" text-anchor="start" font-weight="bold" textLength="113" lengthAdjust="spacing" transform="translate(1917 1666) rotate(-90)" xml:space="preserve">(220)</text><text font-family="'Liberation Serif',serif" font-size="58" fill="#333" text-anchor="start" font-weight="bold" textLength="113" lengthAdjust="spacing" transform="translate(1973 1597.5) rotate(-90)" xml:space="preserve">(200)</text><text font-family="'Liberation Serif',serif" font-size="58" fill="#333" text-anchor="start" font-weight="bold" textLength="113" lengthAdjust="spacing" transform="translate(2028.4 1535.3) rotate(-90)" xml:space="preserve">(112)</text><text font-family="'Liberation Serif',serif" font-size="58" fill="#333" text-anchor="start" font-weight="bold" textLength="113" lengthAdjust="spacing" transform="translate(2078.8 1572.6) rotate(-90)" xml:space="preserve">(201)</text><text font-family="'Liberation Serif',serif" font-size="58" fill="#333" text-anchor="start" font-weight="bold" textLength="113" lengthAdjust="spacing" transform="translate(2173 1610) rotate(-90)" xml:space="preserve">(004)</text><text font-family="'Liberation Serif',serif" font-size="58" fill="#333" text-anchor="start" font-weight="bold" textLength="113" lengthAdjust="spacing" transform="translate(2298.1 1597.5) rotate(-90)" xml:space="preserve">(202)</text><text font-family="'Liberation Serif',serif" font-size="58" fill="#333" text-anchor="start" font-weight="bold" textLength="113" lengthAdjust="spacing" transform="translate(2335.4 1653.5) rotate(-90)" xml:space="preserve">(311)</text></g></g><g filter="url(#f10)"><text font-family="'Liberation Serif',serif" font-size="125" fill="#000" text-anchor="middle" textLength="655" lengthAdjust="spacing" transform="translate(125 887.5) rotate(-90)" xml:space="preserve">Intensity (a.u.)</text></g><g filter="url(#f11)"><text font-family="'Liberation Serif',serif" font-size="93.75" fill="#000" text-anchor="middle" x="242" y="1851.5" xml:space="preserve">10</text><text font-family="'Liberation Serif',serif" font-size="93.75" fill="#000" text-anchor="middle" x="546" y="1851.5" xml:space="preserve">20</text><text font-family="'Liberation Serif',serif" font-size="93.75" fill="#000" text-anchor="middle" x="852.6" y="1851.5" xml:space="preserve">30</text><text font-family="'Liberation Serif',serif" font-size="93.75" fill="#000" text-anchor="middle" x="1158" y="1851.5" xml:space="preserve">40</text><text font-family="'Liberation Serif',serif" font-size="93.75" fill="#000" text-anchor="middle" x="1460" y="1851.5" xml:space="preserve">50</text><text font-family="'Liberation Serif',serif" font-size="93.75" fill="#000" text-anchor="middle" x="1764" y="1851.5" xml:space="preserve">60</text><text font-family="'Liberation Serif',serif" font-size="93.75" fill="#000" text-anchor="middle" x="2073" y="1851.5" xml:space="preserve">70</text><text font-family="'Liberation Serif',serif" font-size="93.75" fill="#000" text-anchor="middle" x="2377" y="1851.5" xml:space="preserve">80</text></g><g filter="url(#f12)"><text font-family="'Liberation Serif',serif" font-size="112.5" fill="#000" text-anchor="middle" textLength="506" lengthAdjust="spacing" x="1312" y="2029" xml:space="preserve">2θ (degree)</text></g><g filter="url(#f13)"><text font-family="'Liberation Serif',serif" font-size="62.5" fill="#000" text-anchor="start" textLength="912" lengthAdjust="spacing" x="1453.4" y="953.7" xml:space="preserve">Au-decorated ZnO-PANI(10 wt. %)</text></g><g filter="url(#f14)"><text font-family="'Liberation Serif',serif" font-size="62.5" fill="#000" text-anchor="start" textLength="682" lengthAdjust="spacing" x="1678" y="1278.6" xml:space="preserve">ZnO JCPDS card No. 89-1397</text><text font-family="'Liberation Serif',serif" font-size="62.5" fill="#000" text-anchor="start" textLength="618" lengthAdjust="spacing" x="1678" y="1360" xml:space="preserve">Au JCPDScard No.04-0784</text></g><g filter="url(#f15)"><text font-family="'Liberation Serif',serif" font-size="65" fill="#000" text-anchor="start" textLength="144" lengthAdjust="spacing" x="2096" y="291.6" xml:space="preserve">PANI</text></g></svg></body></html>
